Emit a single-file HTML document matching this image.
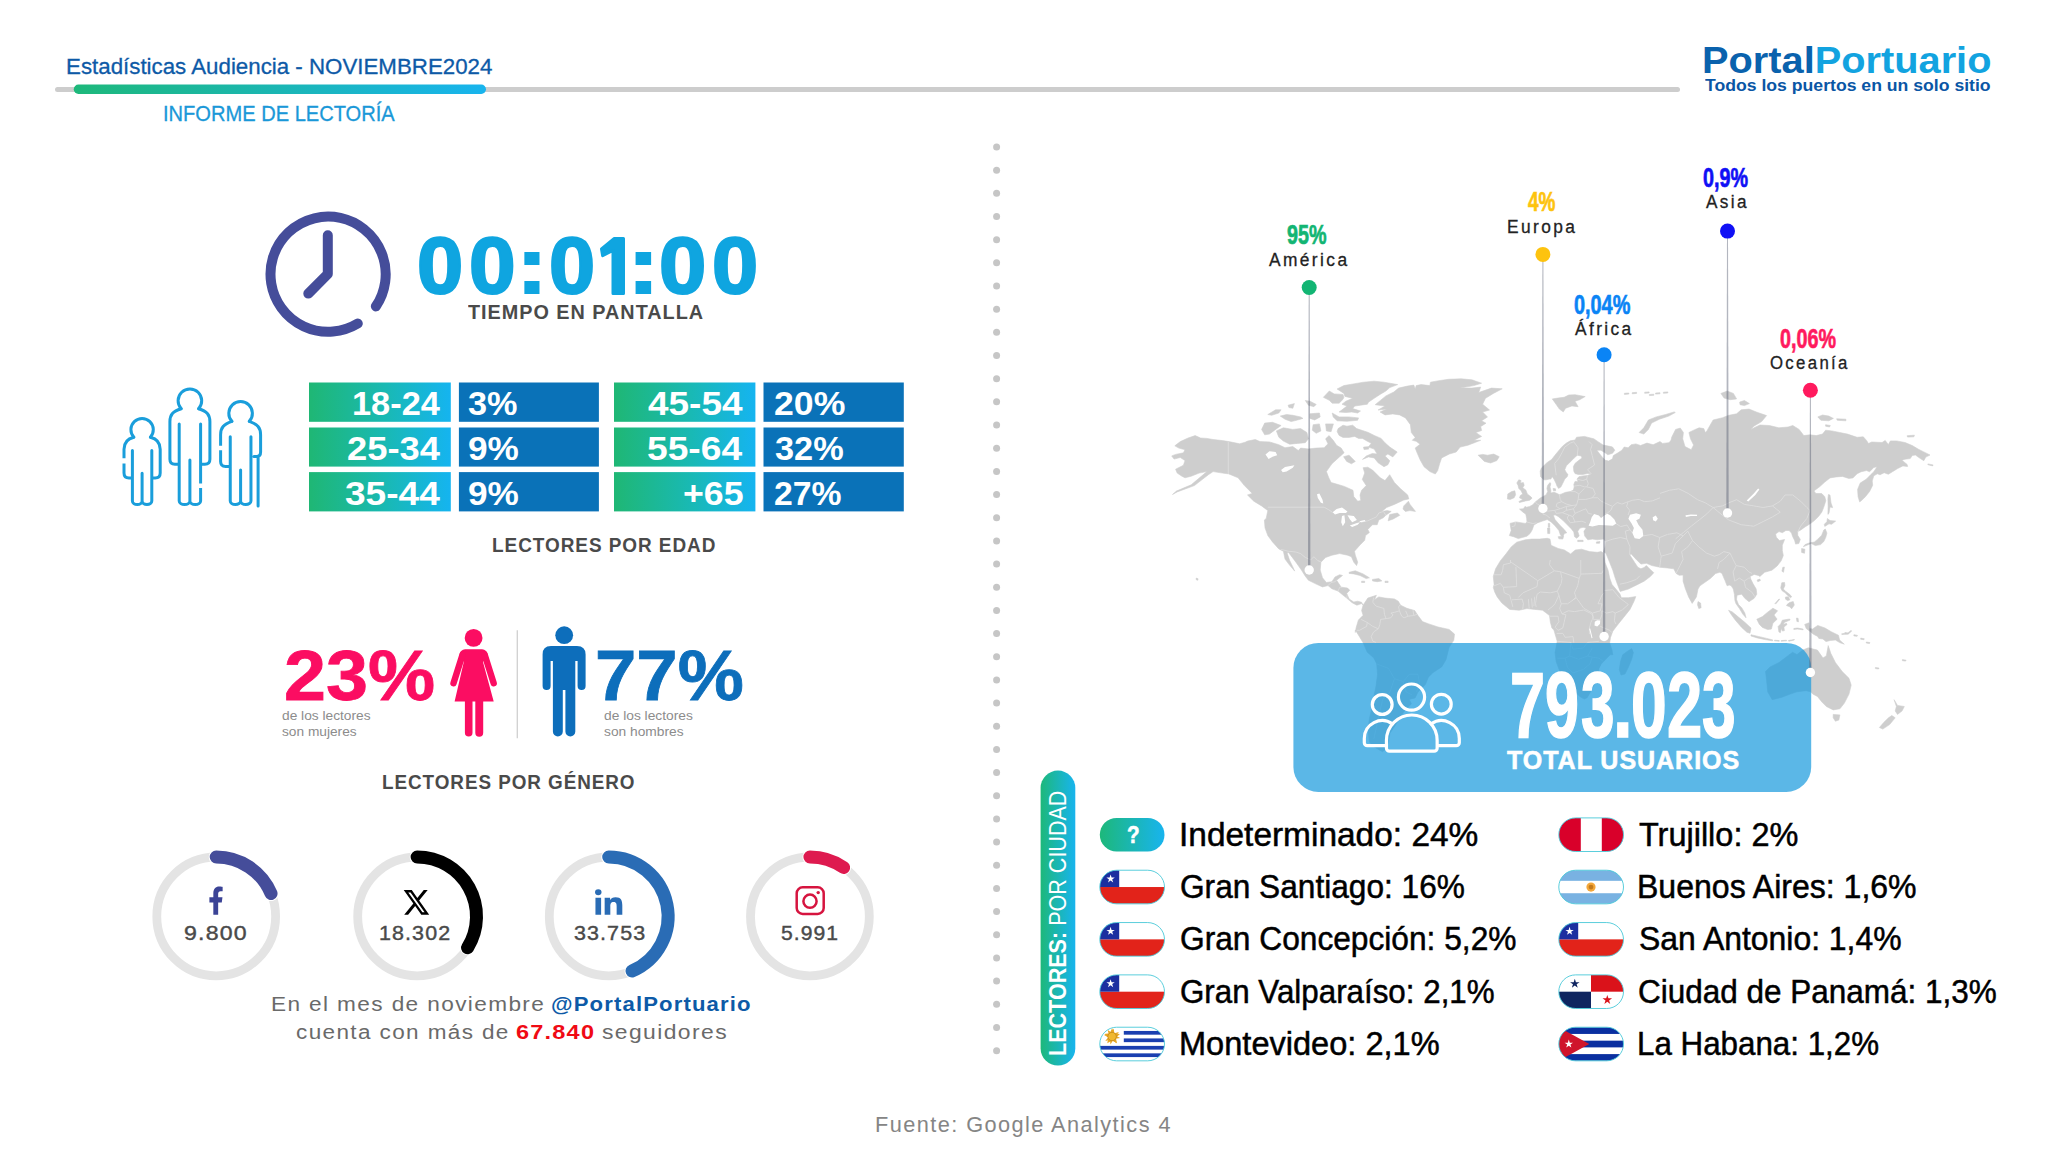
<!DOCTYPE html>
<html><head><meta charset="utf-8"><title>Informe de Lectoría</title>
<style>
html,body{margin:0;padding:0;background:#fff;}
body{width:2048px;height:1152px;position:relative;overflow:hidden;font-family:"Liberation Sans", sans-serif;}
.t{position:absolute;white-space:nowrap;line-height:1;transform-origin:0 0;font-family:"Liberation Sans", sans-serif;}
svg{position:absolute;left:0;top:0;}
.rot{position:absolute;white-space:nowrap;line-height:1;font-family:"Liberation Sans", sans-serif;color:#fff;transform-origin:0 0;}
</style></head><body>
<svg width="2048" height="1152" viewBox="0 0 2048 1152">
<clipPath id="land"><path d="M1174.8,445.8 L1180.3,441.6 L1188.1,438.0 L1195.2,435.6 L1200.6,438.0 L1206.9,438.4 L1213.1,439.5 L1222.5,440.6 L1228.8,441.6 L1239.7,443.8 L1245.2,442.2 L1247.5,441.1 L1255.3,439.5 L1260.0,441.6 L1269.4,441.9 L1278.8,444.7 L1285.0,447.7 L1292.8,446.6 L1298.3,450.5 L1300.6,448.1 L1308.4,448.9 L1316.2,448.1 L1324.1,447.7 L1328.0,443.8 L1325.6,438.8 L1329.1,435.6 L1333.4,440.6 L1336.6,445.3 L1341.2,448.1 L1344.1,452.8 L1339.7,456.7 L1331.9,463.8 L1326.4,471.6 L1328.8,477.8 L1331.1,482.5 L1336.6,484.1 L1344.4,486.4 L1353.0,490.3 L1353.8,496.6 L1357.7,501.2 L1360.8,500.5 L1360.0,495.0 L1361.6,490.3 L1366.2,485.6 L1362.3,479.4 L1364.7,473.1 L1363.1,467.7 L1367.8,467.2 L1372.5,470.0 L1380.3,477.8 L1385.0,480.6 L1389.7,474.7 L1394.4,482.5 L1400.6,488.8 L1407.7,495.0 L1408.8,498.9 L1403.8,500.0 L1394.4,504.4 L1386.6,507.5 L1381.9,511.4 L1387.3,510.6 L1391.2,511.4 L1385.8,515.3 L1383.4,517.7 L1378.8,520.0 L1377.2,524.7 L1372.5,524.7 L1367.8,529.4 L1369.4,532.5 L1365.5,535.6 L1364.7,540.3 L1360.0,545.0 L1354.5,551.2 L1355.3,555.2 L1357.7,562.2 L1356.6,565.6 L1353.8,562.2 L1351.4,556.7 L1347.5,555.2 L1339.7,553.6 L1331.9,555.2 L1325.6,557.5 L1320.9,562.2 L1320.2,570.0 L1322.5,577.8 L1326.4,582.5 L1331.9,581.7 L1335.0,577.0 L1339.7,574.7 L1342.5,575.5 L1336.6,580.2 L1338.1,582.5 L1341.2,587.2 L1347.5,588.0 L1349.8,590.3 L1346.7,593.4 L1349.1,598.9 L1353.8,602.0 L1357.7,601.2 L1361.6,602.3 L1363.1,605.2 L1361.6,603.6 L1356.9,605.2 L1352.2,602.8 L1346.7,598.1 L1342.8,595.0 L1338.1,591.1 L1331.9,588.8 L1328.0,585.6 L1322.5,586.9 L1316.2,584.1 L1308.4,580.2 L1305.3,576.2 L1301.4,570.0 L1295.9,562.2 L1291.2,555.9 L1288.1,552.0 L1287.3,553.6 L1289.7,560.6 L1292.8,566.9 L1294.7,571.1 L1289.7,565.3 L1285.0,559.1 L1283.4,551.2 L1278.8,548.9 L1272.5,541.9 L1267.8,535.6 L1265.0,527.8 L1264.4,520.0 L1266.2,518.4 L1267.8,510.6 L1261.6,505.9 L1253.8,501.2 L1247.5,495.0 L1252.2,493.4 L1244.4,485.6 L1238.1,477.8 L1228.8,473.9 L1222.5,473.1 L1213.1,471.6 L1208.4,474.7 L1194.4,485.6 L1177.2,491.9 L1172.5,494.5 L1176.4,491.1 L1191.2,484.8 L1206.9,471.6 L1199.1,473.1 L1191.2,476.2 L1185.0,477.8 L1181.9,476.2 L1177.2,473.1 L1175.6,469.2 L1183.4,465.3 L1185.0,460.6 L1180.3,457.5 L1174.1,459.1 L1171.7,455.9 L1175.6,454.4 L1183.4,452.8 L1185.0,449.7 L1178.8,448.1Z M1343.6,456.7 L1349.1,455.2 L1355.3,461.4 L1351.4,463.8 L1346.7,461.4Z M1338.1,428.6 L1343.0,425.2 L1346.9,426.2 L1352.7,425.2 L1356.6,428.6 L1362.5,430.5 L1368.4,432.5 L1374.2,435.4 L1381.1,438.4 L1385.0,442.8 L1389.8,447.1 L1397.2,452.0 L1392.8,456.9 L1387.9,454.0 L1385.0,455.9 L1389.8,460.8 L1387.9,464.7 L1384.0,466.7 L1378.1,462.8 L1374.2,457.9 L1368.4,456.9 L1362.5,459.4 L1366.4,455.9 L1372.3,453.5 L1377.1,454.0 L1374.2,449.1 L1368.4,447.1 L1371.3,443.2 L1367.4,441.3 L1362.5,438.4 L1358.6,438.4 L1354.7,436.4 L1348.8,437.4 L1343.0,437.4 L1339.1,435.4 L1337.1,431.5Z M1363.5,447.1 L1368.4,446.7 L1368.8,449.1 L1364.0,449.6Z M1276.4,430.9 L1283.4,427.8 L1292.8,429.4 L1300.6,428.6 L1306.9,432.5 L1308.4,438.8 L1305.3,442.7 L1297.5,443.4 L1289.7,444.2 L1283.4,441.1 L1278.8,437.2Z M1261.6,429.4 L1264.7,423.1 L1272.5,422.3 L1281.1,425.5 L1275.6,429.4 L1269.4,434.1 L1264.7,434.8Z M1267.8,414.5 L1275.6,409.8 L1281.1,409.8 L1278.8,413.0 L1271.7,415.3Z M1280.3,416.1 L1286.6,414.5 L1292.8,415.3 L1300.6,416.9 L1303.0,418.4 L1297.5,420.0 L1291.2,421.6 L1285.0,419.2Z M1288.1,405.2 L1294.4,403.6 L1292.8,408.3 L1288.9,407.5Z M1305.3,400.5 L1310.0,401.2 L1316.2,404.4 L1313.9,406.7 L1308.4,405.2Z M1310.0,413.8 L1319.4,413.0 L1320.2,416.9 L1314.7,420.0 L1310.0,418.4Z M1332.2,413.0 L1339.1,416.9 L1348.8,416.9 L1358.6,417.9 L1357.6,420.3 L1346.9,421.3 L1337.1,420.8 L1333.2,416.9Z M1337.1,389.0 L1343.9,385.6 L1354.7,383.7 L1363.5,382.2 L1374.2,381.2 L1384.0,382.2 L1397.7,384.6 L1389.8,387.6 L1385.9,391.0 L1380.1,394.4 L1374.2,398.3 L1368.4,402.2 L1367.4,404.2 L1360.5,405.2 L1354.7,406.1 L1352.7,408.6 L1360.5,411.0 L1357.6,413.0 L1351.8,412.0 L1345.9,412.5 L1339.1,412.0 L1343.0,409.1 L1346.9,406.1 L1342.0,404.2 L1345.9,401.2 L1352.7,398.3 L1344.9,396.4 L1343.9,393.4Z M1323.4,397.3 L1329.3,391.0 L1334.2,393.9 L1343.0,394.4 L1343.9,397.3 L1343.0,399.3 L1339.1,403.2 L1332.2,403.2 L1329.3,400.3Z M1313.1,424.7 L1319.4,423.9 L1320.9,430.9 L1316.2,433.3 L1312.3,430.2Z M1325.6,423.9 L1333.4,423.9 L1331.1,431.7 L1326.4,430.9Z M1389.7,514.5 L1397.5,513.0 L1399.8,515.3 L1392.8,519.2 L1388.1,520.8Z M1403.8,505.9 L1408.4,501.2 L1410.0,504.4 L1415.5,511.4 L1410.0,510.6 L1405.3,511.4 L1403.0,509.1Z M1349.1,572.3 L1355.3,570.8 L1363.1,573.9 L1369.4,577.8 L1366.2,578.6 L1360.0,575.5 L1353.8,573.9 L1349.1,573.4Z M1372.5,579.4 L1378.8,578.6 L1381.9,580.9 L1377.2,581.7 L1372.5,580.9Z M1385.0,581.2 L1388.1,581.2 L1388.1,582.5 L1385.0,582.5Z M1361.6,581.2 L1364.7,581.2 L1364.7,582.5 L1361.6,582.5Z M1363.1,605.2 L1367.8,598.1 L1376.4,595.3 L1374.4,599.7 L1378.8,596.9 L1385.0,598.1 L1394.4,598.9 L1398.3,601.2 L1400.6,605.2 L1406.9,608.3 L1414.7,610.6 L1417.8,615.3 L1422.5,621.6 L1428.8,623.9 L1438.1,627.0 L1449.1,629.4 L1454.5,634.1 L1453.8,640.3 L1450.6,645.0 L1449.0,647.7 L1446.1,659.5 L1441.7,666.9 L1432.8,672.8 L1428.4,677.2 L1425.4,684.6 L1418.0,692.0 L1415.1,697.9 L1409.2,699.4 L1411.4,703.8 L1403.3,712.6 L1395.9,724.4 L1390.0,733.3 L1388.5,742.1 L1385.6,749.5 L1382.6,751.7 L1379.7,750.3 L1373.8,746.6 L1369.4,742.1 L1367.9,730.3 L1369.4,718.5 L1372.3,706.7 L1373.8,696.4 L1376.0,686.1 L1377.5,674.3 L1376.7,663.9 L1373.8,658.0 L1367.1,652.1 L1363.4,643.3 L1359.0,635.9 L1355.3,630.0 L1355.3,632.5 L1356.1,627.8 L1358.4,620.0 L1363.1,615.3 L1361.6,610.6Z M1375.2,404.7 L1385.9,395.9 L1393.8,392.0 L1398.6,388.1 L1407.4,386.1 L1413.8,385.1 L1415.2,389.0 L1416.2,385.6 L1421.1,384.6 L1429.9,385.6 L1430.4,382.2 L1438.7,380.7 L1448.4,379.3 L1461.1,378.8 L1471.9,379.8 L1481.6,383.2 L1473.8,385.6 L1460.2,388.1 L1471.9,388.1 L1480.7,387.1 L1478.7,392.5 L1491.4,388.1 L1502.2,388.8 L1493.4,393.4 L1485.5,398.3 L1482.6,404.2 L1489.5,410.0 L1482.6,412.0 L1487.5,416.9 L1481.6,420.8 L1486.0,423.2 L1480.7,426.6 L1481.6,430.5 L1475.8,432.5 L1481.6,436.4 L1473.8,440.3 L1480.7,440.3 L1468.0,445.2 L1460.2,447.1 L1456.2,452.0 L1449.4,454.0 L1441.6,457.9 L1439.6,463.8 L1437.7,470.6 L1435.3,474.0 L1429.9,471.6 L1424.0,466.7 L1420.1,459.8 L1417.2,453.0 L1415.2,448.1 L1420.1,444.2 L1416.2,441.3 L1412.3,440.3 L1415.2,437.4 L1411.3,432.5 L1410.4,424.7 L1405.5,417.9 L1399.6,414.9 L1392.8,413.9 L1385.0,414.9 L1380.1,412.0 L1386.9,409.1 L1378.1,410.0 L1385.0,406.1Z M1478.1,455.2 L1482.8,454.4 L1487.5,455.2 L1493.8,454.1 L1499.2,456.7 L1496.9,460.6 L1490.6,463.0 L1484.4,461.4 L1481.2,458.3Z M1552.3,398.9 L1557.8,398.1 L1564.1,397.3 L1568.8,395.0 L1575.0,394.7 L1585.2,396.6 L1579.7,399.7 L1575.0,401.2 L1578.1,406.7 L1571.9,405.9 L1565.6,408.3 L1563.3,411.9 L1559.4,409.1 L1556.2,404.4Z M1674.2,411.9 L1665.6,414.5 L1656.2,416.9 L1648.4,420.0 L1643.8,427.8 L1639.1,432.5 L1643.8,434.1 L1648.4,429.4 L1651.6,423.1 L1659.4,419.2 L1668.8,416.1 L1675.3,412.5Z M1624.4,393.3 L1628.8,393.0 L1628.8,394.1 L1624.4,394.4Z M1632.2,392.7 L1636.6,392.3 L1636.6,393.4 L1632.2,393.8Z M1644.7,392.2 L1649.1,391.9 L1649.1,393.0 L1644.7,393.3Z M1649.4,394.5 L1653.8,394.2 L1653.8,395.3 L1649.4,395.6Z M1655.6,393.0 L1660.0,392.7 L1660.0,393.8 L1655.6,394.1Z M1663.4,392.2 L1667.8,391.9 L1667.8,393.0 L1663.4,393.3Z M1518.8,479.8 L1521.1,480.6 L1520.3,483.0 L1523.4,482.6 L1524.2,485.3 L1522.7,487.7 L1525.8,490.0 L1527.3,493.9 L1531.2,497.0 L1532.0,498.2 L1529.7,500.2 L1525.8,500.9 L1519.5,502.5 L1518.8,501.7 L1522.7,499.4 L1519.5,497.8 L1520.3,495.5 L1522.7,493.9 L1521.1,490.8 L1518.8,488.4 L1518.0,485.3 L1516.8,483.0Z M1507.8,493.9 L1511.7,491.6 L1514.8,490.8 L1515.6,494.7 L1514.1,497.8 L1510.2,499.4 L1507.4,499.0Z M1553.1,488.4 L1555.5,488.8 L1555.6,490.8 L1553.5,490.8Z M1509.4,535.6 L1511.2,530.5 L1510.0,523.4 L1515.9,521.9 L1525.3,523.4 L1527.0,522.0 L1526.6,518.1 L1525.8,514.2 L1522.7,511.9 L1519.5,509.1 L1523.4,508.8 L1525.0,506.4 L1526.6,507.2 L1529.7,506.4 L1532.8,504.8 L1535.2,502.1 L1537.5,500.2 L1540.6,497.8 L1543.8,496.2 L1546.1,494.7 L1547.7,491.6 L1546.9,488.4 L1547.7,485.3 L1550.0,482.6 L1550.8,483.8 L1550.0,486.9 L1550.8,490.0 L1550.8,493.1 L1553.9,492.3 L1556.2,493.1 L1559.4,494.7 L1561.7,493.9 L1565.6,492.3 L1570.3,491.6 L1573.4,490.0 L1574.2,486.9 L1573.8,484.5 L1575.0,481.4 L1578.1,481.4 L1577.0,479.1 L1578.9,476.7 L1582.8,475.9 L1587.5,475.5 L1591.4,474.0 L1587.5,473.6 L1582.8,474.4 L1578.1,474.4 L1575.0,473.6 L1573.8,471.2 L1573.4,466.6 L1575.0,463.4 L1578.9,460.3 L1582.0,458.0 L1581.2,456.0 L1577.3,455.2 L1574.2,458.0 L1570.3,461.9 L1566.4,465.8 L1564.8,469.7 L1566.4,472.8 L1568.0,474.4 L1567.2,476.7 L1564.8,479.1 L1562.5,483.8 L1560.9,486.9 L1558.6,488.4 L1557.0,486.1 L1555.9,483.0 L1553.9,479.1 L1552.3,476.7 L1550.8,479.1 L1549.2,479.1 L1546.1,479.8 L1543.8,479.8 L1540.6,476.7 L1540.2,471.2 L1541.4,468.1 L1546.9,462.7 L1551.6,459.5 L1554.7,455.6 L1557.8,451.7 L1562.5,446.2 L1566.4,443.1 L1570.3,440.8 L1575.0,440.0 L1576.6,437.2 L1584.4,436.4 L1593.8,438.8 L1598.4,441.9 L1603.1,445.0 L1610.9,446.6 L1612.5,447.0 L1614.8,450.2 L1612.5,453.3 L1607.8,454.8 L1604.7,452.5 L1600.8,450.2 L1596.9,450.2 L1599.2,453.3 L1602.3,457.2 L1605.5,460.3 L1608.6,461.1 L1612.5,458.8 L1613.3,455.6 L1617.2,453.3 L1621.9,450.2 L1624.2,447.0 L1628.1,447.8 L1631.2,444.7 L1635.9,443.9 L1640.6,445.5 L1646.9,443.1 L1653.1,444.7 L1660.0,441.6 L1662.5,443.4 L1668.8,442.7 L1672.7,438.8 L1669.4,448.1 L1671.7,437.2 L1675.6,429.4 L1680.3,428.1 L1683.4,432.5 L1682.7,438.8 L1685.0,446.6 L1691.2,449.7 L1693.6,445.0 L1690.5,438.8 L1688.9,432.5 L1693.6,430.2 L1699.1,427.8 L1703.8,428.6 L1705.3,432.5 L1706.9,430.9 L1713.1,420.0 L1722.5,417.7 L1728.8,415.3 L1736.6,413.8 L1741.2,409.8 L1749.1,409.1 L1756.9,412.2 L1766.6,415.6 L1761.6,421.6 L1753.8,426.2 L1750.6,429.4 L1760.0,425.0 L1769.4,425.5 L1778.8,427.8 L1788.1,427.0 L1792.8,425.5 L1799.1,429.4 L1803.8,435.6 L1810.0,434.8 L1816.2,435.6 L1822.5,434.1 L1825.6,430.2 L1831.9,430.9 L1839.7,432.5 L1847.5,434.1 L1857.1,437.3 L1863.3,436.8 L1866.5,440.4 L1868.5,443.5 L1871.7,442.0 L1882.1,442.5 L1885.2,440.4 L1888.3,444.6 L1890.4,440.9 L1896.7,440.9 L1905.0,442.5 L1912.3,445.6 L1918.5,449.3 L1923.8,451.9 L1930.0,455.0 L1925.8,457.1 L1923.8,460.7 L1919.6,458.1 L1915.4,455.0 L1912.3,455.5 L1910.2,458.6 L1905.0,459.2 L1901.9,460.2 L1907.1,464.4 L1907.6,466.5 L1902.9,465.9 L1897.7,468.5 L1892.5,471.7 L1888.3,474.3 L1884.2,472.7 L1880.0,474.8 L1877.4,473.8 L1873.8,475.8 L1872.2,481.0 L1872.7,485.2 L1869.6,491.5 L1865.4,496.7 L1862.3,499.8 L1859.7,501.9 L1858.1,496.7 L1857.6,489.4 L1860.2,483.1 L1866.5,479.0 L1870.6,474.8 L1873.8,471.7 L1877.1,466.7 L1873.8,467.5 L1869.6,471.7 L1866.5,470.6 L1861.2,471.7 L1857.1,473.8 L1852.9,477.9 L1848.8,478.4 L1842.5,476.4 L1836.2,476.9 L1830.0,477.9 L1824.8,482.1 L1819.6,486.8 L1813.9,490.9 L1815.9,493.5 L1821.7,493.5 L1824.8,496.7 L1825.8,500.8 L1823.8,507.1 L1821.7,512.3 L1818.5,516.5 L1814.4,520.6 L1810.2,523.8 L1805.0,526.9 L1800.8,530.0 L1797.7,531.6 L1797.7,535.2 L1800.3,539.4 L1798.8,543.5 L1795.6,544.1 L1794.6,540.4 L1792.5,536.2 L1791.5,533.1 L1789.1,530.5 L1785.8,530.5 L1782.4,532.7 L1779.0,531.6 L1775.6,533.9 L1776.3,537.2 L1779.4,540.6 L1784.6,539.5 L1782.3,545.2 L1782.3,550.4 L1783.3,555.6 L1781.2,560.8 L1777.1,566.0 L1771.9,570.2 L1764.6,572.3 L1759.9,576.5 L1758.3,575.4 L1754.2,574.4 L1750.0,576.5 L1751.0,579.6 L1753.1,583.8 L1756.2,589.0 L1756.8,594.2 L1754.2,598.3 L1749.0,601.7 L1744.8,598.3 L1741.7,594.2 L1737.0,595.2 L1736.5,599.4 L1738.5,604.6 L1741.7,607.7 L1744.8,612.9 L1746.0,617.8 L1742.7,614.0 L1739.6,608.8 L1735.9,603.5 L1734.9,600.4 L1734.4,594.2 L1733.3,589.0 L1731.2,585.8 L1729.2,585.0 L1727.1,585.8 L1725.0,580.6 L1721.9,573.3 L1719.8,572.3 L1715.6,573.5 L1710.4,578.5 L1700.0,585.8 L1698.0,589.1 L1696.4,596.9 L1692.2,603.4 L1688.6,596.9 L1685.5,589.1 L1683.1,581.2 L1683.1,575.0 L1679.2,575.3 L1676.1,573.4 L1673.8,568.8 L1667.5,568.0 L1659.7,567.2 L1651.9,565.6 L1646.4,563.3 L1640.9,564.1 L1636.2,559.4 L1631.2,553.9 L1629.7,554.7 L1631.6,557.8 L1634.7,562.5 L1637.8,567.2 L1640.9,568.8 L1644.1,567.5 L1646.4,565.6 L1649.5,568.8 L1653.8,572.7 L1650.3,576.6 L1644.1,581.2 L1636.2,585.2 L1628.4,589.1 L1620.2,591.4 L1617.5,584.4 L1615.2,578.1 L1612.8,570.3 L1609.7,562.5 L1605.8,553.1 L1603.4,552.3 L1605.0,546.9 L1605.8,541.4 L1603.4,539.1 L1597.2,539.8 L1592.5,539.1 L1587.8,539.8 L1584.7,535.9 L1583.9,531.2 L1586.2,528.1 L1583.1,527.3 L1580.0,528.1 L1577.7,531.2 L1579.2,535.9 L1576.9,538.3 L1574.5,536.7 L1573.8,532.0 L1571.4,528.9 L1567.5,525.0 L1562.8,520.3 L1558.1,516.4 L1555.0,514.8 L1553.4,515.6 L1555.0,519.5 L1559.7,525.0 L1564.4,529.7 L1566.7,532.8 L1564.4,533.6 L1562.8,536.7 L1560.5,535.2 L1558.9,530.5 L1555.0,525.8 L1551.1,521.9 L1547.2,519.5 L1542.5,521.1 L1537.8,522.7 L1533.9,525.0 L1532.3,529.7 L1530.0,533.6 L1526.9,536.2 L1522.2,537.5 L1518.3,538.6 L1513.6,536.7Z M1558.1,536.7 L1563.6,536.2 L1562.8,539.1 L1558.9,538.8Z M1547.5,528.1 L1549.8,528.1 L1549.8,533.6 L1547.7,533.6Z M1548.3,523.4 L1549.7,523.4 L1549.7,527.3 L1548.3,527.3Z M1577.7,540.3 L1583.1,540.3 L1583.1,541.6 L1577.7,541.6Z M1596.4,541.9 L1600.0,541.6 L1599.5,543.3 L1596.4,543.3Z M1698.0,601.6 L1700.6,603.1 L1701.1,607.8 L1698.8,608.6 L1697.5,604.7Z M1720.9,393.4 L1727.2,391.1 L1733.4,393.4 L1736.6,398.9 L1730.3,399.7 L1724.1,398.1Z M1739.7,402.0 L1744.4,400.5 L1749.4,403.6 L1744.4,405.6 L1740.0,404.7Z M1817.8,416.9 L1822.5,415.0 L1828.8,416.1 L1833.4,418.4 L1828.8,420.8 L1820.9,420.3Z M1836.6,418.8 L1845.9,419.2 L1845.9,420.8 L1837.3,420.3Z M1825.6,424.7 L1830.3,425.5 L1829.5,427.0 L1825.6,426.2Z M1907.1,435.7 L1914.4,435.2 L1913.9,436.8 L1907.6,437.1Z M1927.9,463.9 L1933.1,464.9 L1932.6,465.9 L1927.9,464.7Z M1828.4,494.6 L1830.0,495.1 L1831.0,502.9 L1832.6,507.6 L1830.0,507.1 L1829.0,513.3 L1827.9,514.4 L1828.1,506.0 L1827.9,498.8Z M1516.7,542.2 L1525.3,539.8 L1531.6,539.1 L1539.4,539.1 L1547.2,538.3 L1550.0,539.1 L1551.1,545.3 L1558.1,548.4 L1564.4,550.0 L1570.6,553.9 L1575.3,550.0 L1581.6,549.2 L1589.4,551.6 L1597.2,552.3 L1601.1,551.6 L1603.4,553.1 L1605.0,562.5 L1608.1,570.3 L1609.7,578.1 L1612.0,584.4 L1615.9,589.1 L1619.8,593.8 L1621.4,597.7 L1628.4,597.7 L1635.8,596.6 L1633.9,601.6 L1630.0,609.4 L1623.8,617.2 L1617.5,625.0 L1612.8,631.2 L1610.5,637.5 L1609.7,643.0 L1612.0,650.0 L1612.8,654.7 L1610.3,654.8 L1605.8,659.3 L1601.3,663.9 L1599.0,668.4 L1597.9,675.1 L1595.1,683.0 L1591.1,690.9 L1587.2,697.7 L1584.3,699.1 L1579.8,696.6 L1573.0,689.8 L1567.4,680.8 L1561.8,674.0 L1559.5,670.6 L1556.1,661.6 L1555.0,652.6 L1557.2,641.3 L1553.9,630.0 L1551.9,628.1 L1550.3,621.9 L1549.5,615.6 L1545.6,612.5 L1542.5,610.2 L1534.7,609.4 L1526.9,608.6 L1519.1,610.2 L1509.7,609.4 L1501.9,603.1 L1497.2,596.9 L1494.8,592.2 L1493.3,587.5 L1494.1,584.4 L1493.3,576.6 L1495.6,568.8 L1500.3,560.9 L1506.6,553.1 L1511.2,546.9Z M1631.7,648.6 L1633.4,652.6 L1631.7,659.3 L1628.4,667.2 L1625.0,674.0 L1621.0,675.1 L1619.3,669.5 L1620.5,661.6 L1622.7,654.8 L1627.2,651.4Z M1802.7,650.1 L1808.3,647.8 L1817.4,650.1 L1823.0,658.0 L1826.4,655.7 L1828.2,645.6 L1830.9,653.5 L1835.4,662.5 L1842.2,671.5 L1849.0,678.3 L1851.2,685.1 L1849.0,694.1 L1844.4,703.1 L1839.9,708.8 L1833.2,709.9 L1826.4,706.5 L1821.9,702.0 L1817.4,696.4 L1812.8,694.1 L1810.6,691.8 L1806.1,690.7 L1797.0,691.8 L1790.3,694.1 L1781.2,697.5 L1772.2,699.7 L1767.7,691.8 L1766.6,680.6 L1765.5,671.5 L1770.0,667.0 L1779.0,662.5 L1788.0,655.7 L1792.5,652.3 L1797.0,654.6Z M1833.2,714.4 L1839.9,714.9 L1838.8,720.1 L1835.4,721.2 L1833.2,717.8Z M1894.1,699.7 L1897.5,705.4 L1904.3,706.5 L1902.0,711.0 L1897.5,714.4 L1895.2,711.0 L1896.4,706.5Z M1891.8,715.5 L1895.2,717.8 L1889.6,724.6 L1882.8,729.1 L1879.4,727.5 L1883.9,722.3 L1888.5,717.8Z M1804.7,624.4 L1808.9,622.8 L1809.4,628.5 L1812.5,629.1 L1817.7,625.4 L1825.0,628.0 L1831.2,631.7 L1838.5,635.3 L1839.6,640.0 L1844.3,644.2 L1839.6,642.6 L1835.4,640.0 L1830.2,640.5 L1826.0,641.6 L1822.9,639.0 L1818.8,638.4 L1817.7,636.4 L1813.5,634.3 L1810.4,631.7 L1806.2,628.5Z M1756.8,619.2 L1762.5,616.6 L1766.7,612.9 L1772.9,608.2 L1777.6,610.8 L1774.0,615.0 L1777.1,619.2 L1772.9,623.3 L1771.4,629.1 L1767.7,629.6 L1762.5,627.5 L1759.4,624.4Z M1728.6,610.3 L1732.3,611.9 L1738.5,617.1 L1744.8,622.3 L1751.0,628.0 L1750.0,633.2 L1746.9,632.2 L1741.7,627.5 L1735.4,620.2 L1731.2,614.5Z M1751.0,634.8 L1758.3,636.4 L1766.7,638.4 L1772.9,640.0 L1772.4,640.8 L1764.6,639.5 L1757.3,637.9 L1751.0,636.0Z M1774.5,640.2 L1779.2,640.6 L1779.2,641.2 L1774.5,640.8Z M1781.2,640.6 L1786.5,640.2 L1786.5,640.8 L1781.2,641.2Z M1788.5,640.5 L1794.3,639.5 L1794.3,640.0 L1788.8,641.2Z M1778.1,626.5 L1780.7,623.9 L1782.3,620.2 L1789.6,619.0 L1790.1,620.0 L1784.6,622.3 L1783.3,624.6 L1786.5,623.3 L1787.0,624.6 L1783.9,627.0 L1784.4,630.6 L1782.5,631.1 L1781.2,628.5 L1780.4,632.7 L1778.9,631.9Z M1796.4,618.1 L1798.1,618.3 L1798.5,621.8 L1796.9,621.5Z M1793.8,628.5 L1797.4,628.0 L1803.1,629.1 L1803.1,629.8 L1797.4,629.1 L1793.8,629.4Z M1781.8,582.7 L1784.6,582.5 L1784.9,585.8 L1783.3,589.0 L1785.9,591.6 L1789.6,594.2 L1791.7,596.8 L1790.6,597.8 L1787.5,595.2 L1784.9,592.6 L1782.3,591.0 L1780.7,587.9Z M1785.4,597.1 L1788.5,596.8 L1789.8,599.9 L1787.5,600.6 L1785.6,599.2Z M1789.6,602.5 L1793.2,601.5 L1794.3,605.1 L1791.7,608.8 L1789.6,606.7 L1786.5,605.6 L1787.0,604.6Z M1775.0,603.5 L1779.0,598.9 L1779.6,599.4 L1775.6,604.1Z M1782.8,567.3 L1784.4,567.1 L1783.5,572.3 L1781.9,571.2Z M1757.1,580.1 L1759.9,579.1 L1760.4,580.6 L1757.8,581.7Z M1841.7,633.8 L1847.9,632.9 L1851.0,630.4 L1851.7,631.0 L1848.4,634.0 L1841.9,634.6Z M1827.4,518.5 L1830.0,520.6 L1835.7,521.1 L1831.6,524.3 L1829.0,523.8 L1824.8,526.4 L1824.3,524.3 L1826.9,521.7Z M1825.3,529.0 L1826.9,533.1 L1825.8,537.3 L1823.8,541.5 L1820.6,544.6 L1815.4,545.6 L1811.2,543.5 L1806.0,545.6 L1803.4,546.7 L1805.0,544.6 L1809.2,543.0 L1814.4,542.0 L1817.5,539.4 L1821.7,535.2 L1823.8,530.0Z M1801.6,548.5 L1804.9,549.2 L1804.5,553.3 L1801.6,552.4Z M1844.9,632.5 L1848.5,633.2 L1848.1,634.1 L1844.9,633.6Z M1853.9,634.7 L1857.5,635.4 L1857.1,636.3 L1853.9,635.9Z M1860.7,638.1 L1864.3,638.8 L1863.9,639.7 L1860.7,639.3Z M1866.3,642.0 L1869.9,642.6 L1869.5,643.5 L1866.3,643.1Z M1875.4,667.5 L1879.0,668.1 L1878.5,669.0 L1875.4,668.6Z M1902.4,659.6 L1906.1,660.2 L1905.6,661.1 L1902.4,660.7Z M1196.2,578.1 L1198.1,578.8 L1197.8,580.3 L1196.2,579.7Z"/></clipPath>
<path d="M1174.8,445.8 L1180.3,441.6 L1188.1,438.0 L1195.2,435.6 L1200.6,438.0 L1206.9,438.4 L1213.1,439.5 L1222.5,440.6 L1228.8,441.6 L1239.7,443.8 L1245.2,442.2 L1247.5,441.1 L1255.3,439.5 L1260.0,441.6 L1269.4,441.9 L1278.8,444.7 L1285.0,447.7 L1292.8,446.6 L1298.3,450.5 L1300.6,448.1 L1308.4,448.9 L1316.2,448.1 L1324.1,447.7 L1328.0,443.8 L1325.6,438.8 L1329.1,435.6 L1333.4,440.6 L1336.6,445.3 L1341.2,448.1 L1344.1,452.8 L1339.7,456.7 L1331.9,463.8 L1326.4,471.6 L1328.8,477.8 L1331.1,482.5 L1336.6,484.1 L1344.4,486.4 L1353.0,490.3 L1353.8,496.6 L1357.7,501.2 L1360.8,500.5 L1360.0,495.0 L1361.6,490.3 L1366.2,485.6 L1362.3,479.4 L1364.7,473.1 L1363.1,467.7 L1367.8,467.2 L1372.5,470.0 L1380.3,477.8 L1385.0,480.6 L1389.7,474.7 L1394.4,482.5 L1400.6,488.8 L1407.7,495.0 L1408.8,498.9 L1403.8,500.0 L1394.4,504.4 L1386.6,507.5 L1381.9,511.4 L1387.3,510.6 L1391.2,511.4 L1385.8,515.3 L1383.4,517.7 L1378.8,520.0 L1377.2,524.7 L1372.5,524.7 L1367.8,529.4 L1369.4,532.5 L1365.5,535.6 L1364.7,540.3 L1360.0,545.0 L1354.5,551.2 L1355.3,555.2 L1357.7,562.2 L1356.6,565.6 L1353.8,562.2 L1351.4,556.7 L1347.5,555.2 L1339.7,553.6 L1331.9,555.2 L1325.6,557.5 L1320.9,562.2 L1320.2,570.0 L1322.5,577.8 L1326.4,582.5 L1331.9,581.7 L1335.0,577.0 L1339.7,574.7 L1342.5,575.5 L1336.6,580.2 L1338.1,582.5 L1341.2,587.2 L1347.5,588.0 L1349.8,590.3 L1346.7,593.4 L1349.1,598.9 L1353.8,602.0 L1357.7,601.2 L1361.6,602.3 L1363.1,605.2 L1361.6,603.6 L1356.9,605.2 L1352.2,602.8 L1346.7,598.1 L1342.8,595.0 L1338.1,591.1 L1331.9,588.8 L1328.0,585.6 L1322.5,586.9 L1316.2,584.1 L1308.4,580.2 L1305.3,576.2 L1301.4,570.0 L1295.9,562.2 L1291.2,555.9 L1288.1,552.0 L1287.3,553.6 L1289.7,560.6 L1292.8,566.9 L1294.7,571.1 L1289.7,565.3 L1285.0,559.1 L1283.4,551.2 L1278.8,548.9 L1272.5,541.9 L1267.8,535.6 L1265.0,527.8 L1264.4,520.0 L1266.2,518.4 L1267.8,510.6 L1261.6,505.9 L1253.8,501.2 L1247.5,495.0 L1252.2,493.4 L1244.4,485.6 L1238.1,477.8 L1228.8,473.9 L1222.5,473.1 L1213.1,471.6 L1208.4,474.7 L1194.4,485.6 L1177.2,491.9 L1172.5,494.5 L1176.4,491.1 L1191.2,484.8 L1206.9,471.6 L1199.1,473.1 L1191.2,476.2 L1185.0,477.8 L1181.9,476.2 L1177.2,473.1 L1175.6,469.2 L1183.4,465.3 L1185.0,460.6 L1180.3,457.5 L1174.1,459.1 L1171.7,455.9 L1175.6,454.4 L1183.4,452.8 L1185.0,449.7 L1178.8,448.1Z M1343.6,456.7 L1349.1,455.2 L1355.3,461.4 L1351.4,463.8 L1346.7,461.4Z M1338.1,428.6 L1343.0,425.2 L1346.9,426.2 L1352.7,425.2 L1356.6,428.6 L1362.5,430.5 L1368.4,432.5 L1374.2,435.4 L1381.1,438.4 L1385.0,442.8 L1389.8,447.1 L1397.2,452.0 L1392.8,456.9 L1387.9,454.0 L1385.0,455.9 L1389.8,460.8 L1387.9,464.7 L1384.0,466.7 L1378.1,462.8 L1374.2,457.9 L1368.4,456.9 L1362.5,459.4 L1366.4,455.9 L1372.3,453.5 L1377.1,454.0 L1374.2,449.1 L1368.4,447.1 L1371.3,443.2 L1367.4,441.3 L1362.5,438.4 L1358.6,438.4 L1354.7,436.4 L1348.8,437.4 L1343.0,437.4 L1339.1,435.4 L1337.1,431.5Z M1363.5,447.1 L1368.4,446.7 L1368.8,449.1 L1364.0,449.6Z M1276.4,430.9 L1283.4,427.8 L1292.8,429.4 L1300.6,428.6 L1306.9,432.5 L1308.4,438.8 L1305.3,442.7 L1297.5,443.4 L1289.7,444.2 L1283.4,441.1 L1278.8,437.2Z M1261.6,429.4 L1264.7,423.1 L1272.5,422.3 L1281.1,425.5 L1275.6,429.4 L1269.4,434.1 L1264.7,434.8Z M1267.8,414.5 L1275.6,409.8 L1281.1,409.8 L1278.8,413.0 L1271.7,415.3Z M1280.3,416.1 L1286.6,414.5 L1292.8,415.3 L1300.6,416.9 L1303.0,418.4 L1297.5,420.0 L1291.2,421.6 L1285.0,419.2Z M1288.1,405.2 L1294.4,403.6 L1292.8,408.3 L1288.9,407.5Z M1305.3,400.5 L1310.0,401.2 L1316.2,404.4 L1313.9,406.7 L1308.4,405.2Z M1310.0,413.8 L1319.4,413.0 L1320.2,416.9 L1314.7,420.0 L1310.0,418.4Z M1332.2,413.0 L1339.1,416.9 L1348.8,416.9 L1358.6,417.9 L1357.6,420.3 L1346.9,421.3 L1337.1,420.8 L1333.2,416.9Z M1337.1,389.0 L1343.9,385.6 L1354.7,383.7 L1363.5,382.2 L1374.2,381.2 L1384.0,382.2 L1397.7,384.6 L1389.8,387.6 L1385.9,391.0 L1380.1,394.4 L1374.2,398.3 L1368.4,402.2 L1367.4,404.2 L1360.5,405.2 L1354.7,406.1 L1352.7,408.6 L1360.5,411.0 L1357.6,413.0 L1351.8,412.0 L1345.9,412.5 L1339.1,412.0 L1343.0,409.1 L1346.9,406.1 L1342.0,404.2 L1345.9,401.2 L1352.7,398.3 L1344.9,396.4 L1343.9,393.4Z M1323.4,397.3 L1329.3,391.0 L1334.2,393.9 L1343.0,394.4 L1343.9,397.3 L1343.0,399.3 L1339.1,403.2 L1332.2,403.2 L1329.3,400.3Z M1313.1,424.7 L1319.4,423.9 L1320.9,430.9 L1316.2,433.3 L1312.3,430.2Z M1325.6,423.9 L1333.4,423.9 L1331.1,431.7 L1326.4,430.9Z M1389.7,514.5 L1397.5,513.0 L1399.8,515.3 L1392.8,519.2 L1388.1,520.8Z M1403.8,505.9 L1408.4,501.2 L1410.0,504.4 L1415.5,511.4 L1410.0,510.6 L1405.3,511.4 L1403.0,509.1Z M1349.1,572.3 L1355.3,570.8 L1363.1,573.9 L1369.4,577.8 L1366.2,578.6 L1360.0,575.5 L1353.8,573.9 L1349.1,573.4Z M1372.5,579.4 L1378.8,578.6 L1381.9,580.9 L1377.2,581.7 L1372.5,580.9Z M1385.0,581.2 L1388.1,581.2 L1388.1,582.5 L1385.0,582.5Z M1361.6,581.2 L1364.7,581.2 L1364.7,582.5 L1361.6,582.5Z M1363.1,605.2 L1367.8,598.1 L1376.4,595.3 L1374.4,599.7 L1378.8,596.9 L1385.0,598.1 L1394.4,598.9 L1398.3,601.2 L1400.6,605.2 L1406.9,608.3 L1414.7,610.6 L1417.8,615.3 L1422.5,621.6 L1428.8,623.9 L1438.1,627.0 L1449.1,629.4 L1454.5,634.1 L1453.8,640.3 L1450.6,645.0 L1449.0,647.7 L1446.1,659.5 L1441.7,666.9 L1432.8,672.8 L1428.4,677.2 L1425.4,684.6 L1418.0,692.0 L1415.1,697.9 L1409.2,699.4 L1411.4,703.8 L1403.3,712.6 L1395.9,724.4 L1390.0,733.3 L1388.5,742.1 L1385.6,749.5 L1382.6,751.7 L1379.7,750.3 L1373.8,746.6 L1369.4,742.1 L1367.9,730.3 L1369.4,718.5 L1372.3,706.7 L1373.8,696.4 L1376.0,686.1 L1377.5,674.3 L1376.7,663.9 L1373.8,658.0 L1367.1,652.1 L1363.4,643.3 L1359.0,635.9 L1355.3,630.0 L1355.3,632.5 L1356.1,627.8 L1358.4,620.0 L1363.1,615.3 L1361.6,610.6Z M1375.2,404.7 L1385.9,395.9 L1393.8,392.0 L1398.6,388.1 L1407.4,386.1 L1413.8,385.1 L1415.2,389.0 L1416.2,385.6 L1421.1,384.6 L1429.9,385.6 L1430.4,382.2 L1438.7,380.7 L1448.4,379.3 L1461.1,378.8 L1471.9,379.8 L1481.6,383.2 L1473.8,385.6 L1460.2,388.1 L1471.9,388.1 L1480.7,387.1 L1478.7,392.5 L1491.4,388.1 L1502.2,388.8 L1493.4,393.4 L1485.5,398.3 L1482.6,404.2 L1489.5,410.0 L1482.6,412.0 L1487.5,416.9 L1481.6,420.8 L1486.0,423.2 L1480.7,426.6 L1481.6,430.5 L1475.8,432.5 L1481.6,436.4 L1473.8,440.3 L1480.7,440.3 L1468.0,445.2 L1460.2,447.1 L1456.2,452.0 L1449.4,454.0 L1441.6,457.9 L1439.6,463.8 L1437.7,470.6 L1435.3,474.0 L1429.9,471.6 L1424.0,466.7 L1420.1,459.8 L1417.2,453.0 L1415.2,448.1 L1420.1,444.2 L1416.2,441.3 L1412.3,440.3 L1415.2,437.4 L1411.3,432.5 L1410.4,424.7 L1405.5,417.9 L1399.6,414.9 L1392.8,413.9 L1385.0,414.9 L1380.1,412.0 L1386.9,409.1 L1378.1,410.0 L1385.0,406.1Z M1478.1,455.2 L1482.8,454.4 L1487.5,455.2 L1493.8,454.1 L1499.2,456.7 L1496.9,460.6 L1490.6,463.0 L1484.4,461.4 L1481.2,458.3Z M1552.3,398.9 L1557.8,398.1 L1564.1,397.3 L1568.8,395.0 L1575.0,394.7 L1585.2,396.6 L1579.7,399.7 L1575.0,401.2 L1578.1,406.7 L1571.9,405.9 L1565.6,408.3 L1563.3,411.9 L1559.4,409.1 L1556.2,404.4Z M1674.2,411.9 L1665.6,414.5 L1656.2,416.9 L1648.4,420.0 L1643.8,427.8 L1639.1,432.5 L1643.8,434.1 L1648.4,429.4 L1651.6,423.1 L1659.4,419.2 L1668.8,416.1 L1675.3,412.5Z M1624.4,393.3 L1628.8,393.0 L1628.8,394.1 L1624.4,394.4Z M1632.2,392.7 L1636.6,392.3 L1636.6,393.4 L1632.2,393.8Z M1644.7,392.2 L1649.1,391.9 L1649.1,393.0 L1644.7,393.3Z M1649.4,394.5 L1653.8,394.2 L1653.8,395.3 L1649.4,395.6Z M1655.6,393.0 L1660.0,392.7 L1660.0,393.8 L1655.6,394.1Z M1663.4,392.2 L1667.8,391.9 L1667.8,393.0 L1663.4,393.3Z M1518.8,479.8 L1521.1,480.6 L1520.3,483.0 L1523.4,482.6 L1524.2,485.3 L1522.7,487.7 L1525.8,490.0 L1527.3,493.9 L1531.2,497.0 L1532.0,498.2 L1529.7,500.2 L1525.8,500.9 L1519.5,502.5 L1518.8,501.7 L1522.7,499.4 L1519.5,497.8 L1520.3,495.5 L1522.7,493.9 L1521.1,490.8 L1518.8,488.4 L1518.0,485.3 L1516.8,483.0Z M1507.8,493.9 L1511.7,491.6 L1514.8,490.8 L1515.6,494.7 L1514.1,497.8 L1510.2,499.4 L1507.4,499.0Z M1553.1,488.4 L1555.5,488.8 L1555.6,490.8 L1553.5,490.8Z M1509.4,535.6 L1511.2,530.5 L1510.0,523.4 L1515.9,521.9 L1525.3,523.4 L1527.0,522.0 L1526.6,518.1 L1525.8,514.2 L1522.7,511.9 L1519.5,509.1 L1523.4,508.8 L1525.0,506.4 L1526.6,507.2 L1529.7,506.4 L1532.8,504.8 L1535.2,502.1 L1537.5,500.2 L1540.6,497.8 L1543.8,496.2 L1546.1,494.7 L1547.7,491.6 L1546.9,488.4 L1547.7,485.3 L1550.0,482.6 L1550.8,483.8 L1550.0,486.9 L1550.8,490.0 L1550.8,493.1 L1553.9,492.3 L1556.2,493.1 L1559.4,494.7 L1561.7,493.9 L1565.6,492.3 L1570.3,491.6 L1573.4,490.0 L1574.2,486.9 L1573.8,484.5 L1575.0,481.4 L1578.1,481.4 L1577.0,479.1 L1578.9,476.7 L1582.8,475.9 L1587.5,475.5 L1591.4,474.0 L1587.5,473.6 L1582.8,474.4 L1578.1,474.4 L1575.0,473.6 L1573.8,471.2 L1573.4,466.6 L1575.0,463.4 L1578.9,460.3 L1582.0,458.0 L1581.2,456.0 L1577.3,455.2 L1574.2,458.0 L1570.3,461.9 L1566.4,465.8 L1564.8,469.7 L1566.4,472.8 L1568.0,474.4 L1567.2,476.7 L1564.8,479.1 L1562.5,483.8 L1560.9,486.9 L1558.6,488.4 L1557.0,486.1 L1555.9,483.0 L1553.9,479.1 L1552.3,476.7 L1550.8,479.1 L1549.2,479.1 L1546.1,479.8 L1543.8,479.8 L1540.6,476.7 L1540.2,471.2 L1541.4,468.1 L1546.9,462.7 L1551.6,459.5 L1554.7,455.6 L1557.8,451.7 L1562.5,446.2 L1566.4,443.1 L1570.3,440.8 L1575.0,440.0 L1576.6,437.2 L1584.4,436.4 L1593.8,438.8 L1598.4,441.9 L1603.1,445.0 L1610.9,446.6 L1612.5,447.0 L1614.8,450.2 L1612.5,453.3 L1607.8,454.8 L1604.7,452.5 L1600.8,450.2 L1596.9,450.2 L1599.2,453.3 L1602.3,457.2 L1605.5,460.3 L1608.6,461.1 L1612.5,458.8 L1613.3,455.6 L1617.2,453.3 L1621.9,450.2 L1624.2,447.0 L1628.1,447.8 L1631.2,444.7 L1635.9,443.9 L1640.6,445.5 L1646.9,443.1 L1653.1,444.7 L1660.0,441.6 L1662.5,443.4 L1668.8,442.7 L1672.7,438.8 L1669.4,448.1 L1671.7,437.2 L1675.6,429.4 L1680.3,428.1 L1683.4,432.5 L1682.7,438.8 L1685.0,446.6 L1691.2,449.7 L1693.6,445.0 L1690.5,438.8 L1688.9,432.5 L1693.6,430.2 L1699.1,427.8 L1703.8,428.6 L1705.3,432.5 L1706.9,430.9 L1713.1,420.0 L1722.5,417.7 L1728.8,415.3 L1736.6,413.8 L1741.2,409.8 L1749.1,409.1 L1756.9,412.2 L1766.6,415.6 L1761.6,421.6 L1753.8,426.2 L1750.6,429.4 L1760.0,425.0 L1769.4,425.5 L1778.8,427.8 L1788.1,427.0 L1792.8,425.5 L1799.1,429.4 L1803.8,435.6 L1810.0,434.8 L1816.2,435.6 L1822.5,434.1 L1825.6,430.2 L1831.9,430.9 L1839.7,432.5 L1847.5,434.1 L1857.1,437.3 L1863.3,436.8 L1866.5,440.4 L1868.5,443.5 L1871.7,442.0 L1882.1,442.5 L1885.2,440.4 L1888.3,444.6 L1890.4,440.9 L1896.7,440.9 L1905.0,442.5 L1912.3,445.6 L1918.5,449.3 L1923.8,451.9 L1930.0,455.0 L1925.8,457.1 L1923.8,460.7 L1919.6,458.1 L1915.4,455.0 L1912.3,455.5 L1910.2,458.6 L1905.0,459.2 L1901.9,460.2 L1907.1,464.4 L1907.6,466.5 L1902.9,465.9 L1897.7,468.5 L1892.5,471.7 L1888.3,474.3 L1884.2,472.7 L1880.0,474.8 L1877.4,473.8 L1873.8,475.8 L1872.2,481.0 L1872.7,485.2 L1869.6,491.5 L1865.4,496.7 L1862.3,499.8 L1859.7,501.9 L1858.1,496.7 L1857.6,489.4 L1860.2,483.1 L1866.5,479.0 L1870.6,474.8 L1873.8,471.7 L1877.1,466.7 L1873.8,467.5 L1869.6,471.7 L1866.5,470.6 L1861.2,471.7 L1857.1,473.8 L1852.9,477.9 L1848.8,478.4 L1842.5,476.4 L1836.2,476.9 L1830.0,477.9 L1824.8,482.1 L1819.6,486.8 L1813.9,490.9 L1815.9,493.5 L1821.7,493.5 L1824.8,496.7 L1825.8,500.8 L1823.8,507.1 L1821.7,512.3 L1818.5,516.5 L1814.4,520.6 L1810.2,523.8 L1805.0,526.9 L1800.8,530.0 L1797.7,531.6 L1797.7,535.2 L1800.3,539.4 L1798.8,543.5 L1795.6,544.1 L1794.6,540.4 L1792.5,536.2 L1791.5,533.1 L1789.1,530.5 L1785.8,530.5 L1782.4,532.7 L1779.0,531.6 L1775.6,533.9 L1776.3,537.2 L1779.4,540.6 L1784.6,539.5 L1782.3,545.2 L1782.3,550.4 L1783.3,555.6 L1781.2,560.8 L1777.1,566.0 L1771.9,570.2 L1764.6,572.3 L1759.9,576.5 L1758.3,575.4 L1754.2,574.4 L1750.0,576.5 L1751.0,579.6 L1753.1,583.8 L1756.2,589.0 L1756.8,594.2 L1754.2,598.3 L1749.0,601.7 L1744.8,598.3 L1741.7,594.2 L1737.0,595.2 L1736.5,599.4 L1738.5,604.6 L1741.7,607.7 L1744.8,612.9 L1746.0,617.8 L1742.7,614.0 L1739.6,608.8 L1735.9,603.5 L1734.9,600.4 L1734.4,594.2 L1733.3,589.0 L1731.2,585.8 L1729.2,585.0 L1727.1,585.8 L1725.0,580.6 L1721.9,573.3 L1719.8,572.3 L1715.6,573.5 L1710.4,578.5 L1700.0,585.8 L1698.0,589.1 L1696.4,596.9 L1692.2,603.4 L1688.6,596.9 L1685.5,589.1 L1683.1,581.2 L1683.1,575.0 L1679.2,575.3 L1676.1,573.4 L1673.8,568.8 L1667.5,568.0 L1659.7,567.2 L1651.9,565.6 L1646.4,563.3 L1640.9,564.1 L1636.2,559.4 L1631.2,553.9 L1629.7,554.7 L1631.6,557.8 L1634.7,562.5 L1637.8,567.2 L1640.9,568.8 L1644.1,567.5 L1646.4,565.6 L1649.5,568.8 L1653.8,572.7 L1650.3,576.6 L1644.1,581.2 L1636.2,585.2 L1628.4,589.1 L1620.2,591.4 L1617.5,584.4 L1615.2,578.1 L1612.8,570.3 L1609.7,562.5 L1605.8,553.1 L1603.4,552.3 L1605.0,546.9 L1605.8,541.4 L1603.4,539.1 L1597.2,539.8 L1592.5,539.1 L1587.8,539.8 L1584.7,535.9 L1583.9,531.2 L1586.2,528.1 L1583.1,527.3 L1580.0,528.1 L1577.7,531.2 L1579.2,535.9 L1576.9,538.3 L1574.5,536.7 L1573.8,532.0 L1571.4,528.9 L1567.5,525.0 L1562.8,520.3 L1558.1,516.4 L1555.0,514.8 L1553.4,515.6 L1555.0,519.5 L1559.7,525.0 L1564.4,529.7 L1566.7,532.8 L1564.4,533.6 L1562.8,536.7 L1560.5,535.2 L1558.9,530.5 L1555.0,525.8 L1551.1,521.9 L1547.2,519.5 L1542.5,521.1 L1537.8,522.7 L1533.9,525.0 L1532.3,529.7 L1530.0,533.6 L1526.9,536.2 L1522.2,537.5 L1518.3,538.6 L1513.6,536.7Z M1558.1,536.7 L1563.6,536.2 L1562.8,539.1 L1558.9,538.8Z M1547.5,528.1 L1549.8,528.1 L1549.8,533.6 L1547.7,533.6Z M1548.3,523.4 L1549.7,523.4 L1549.7,527.3 L1548.3,527.3Z M1577.7,540.3 L1583.1,540.3 L1583.1,541.6 L1577.7,541.6Z M1596.4,541.9 L1600.0,541.6 L1599.5,543.3 L1596.4,543.3Z M1698.0,601.6 L1700.6,603.1 L1701.1,607.8 L1698.8,608.6 L1697.5,604.7Z M1720.9,393.4 L1727.2,391.1 L1733.4,393.4 L1736.6,398.9 L1730.3,399.7 L1724.1,398.1Z M1739.7,402.0 L1744.4,400.5 L1749.4,403.6 L1744.4,405.6 L1740.0,404.7Z M1817.8,416.9 L1822.5,415.0 L1828.8,416.1 L1833.4,418.4 L1828.8,420.8 L1820.9,420.3Z M1836.6,418.8 L1845.9,419.2 L1845.9,420.8 L1837.3,420.3Z M1825.6,424.7 L1830.3,425.5 L1829.5,427.0 L1825.6,426.2Z M1907.1,435.7 L1914.4,435.2 L1913.9,436.8 L1907.6,437.1Z M1927.9,463.9 L1933.1,464.9 L1932.6,465.9 L1927.9,464.7Z M1828.4,494.6 L1830.0,495.1 L1831.0,502.9 L1832.6,507.6 L1830.0,507.1 L1829.0,513.3 L1827.9,514.4 L1828.1,506.0 L1827.9,498.8Z M1516.7,542.2 L1525.3,539.8 L1531.6,539.1 L1539.4,539.1 L1547.2,538.3 L1550.0,539.1 L1551.1,545.3 L1558.1,548.4 L1564.4,550.0 L1570.6,553.9 L1575.3,550.0 L1581.6,549.2 L1589.4,551.6 L1597.2,552.3 L1601.1,551.6 L1603.4,553.1 L1605.0,562.5 L1608.1,570.3 L1609.7,578.1 L1612.0,584.4 L1615.9,589.1 L1619.8,593.8 L1621.4,597.7 L1628.4,597.7 L1635.8,596.6 L1633.9,601.6 L1630.0,609.4 L1623.8,617.2 L1617.5,625.0 L1612.8,631.2 L1610.5,637.5 L1609.7,643.0 L1612.0,650.0 L1612.8,654.7 L1610.3,654.8 L1605.8,659.3 L1601.3,663.9 L1599.0,668.4 L1597.9,675.1 L1595.1,683.0 L1591.1,690.9 L1587.2,697.7 L1584.3,699.1 L1579.8,696.6 L1573.0,689.8 L1567.4,680.8 L1561.8,674.0 L1559.5,670.6 L1556.1,661.6 L1555.0,652.6 L1557.2,641.3 L1553.9,630.0 L1551.9,628.1 L1550.3,621.9 L1549.5,615.6 L1545.6,612.5 L1542.5,610.2 L1534.7,609.4 L1526.9,608.6 L1519.1,610.2 L1509.7,609.4 L1501.9,603.1 L1497.2,596.9 L1494.8,592.2 L1493.3,587.5 L1494.1,584.4 L1493.3,576.6 L1495.6,568.8 L1500.3,560.9 L1506.6,553.1 L1511.2,546.9Z M1631.7,648.6 L1633.4,652.6 L1631.7,659.3 L1628.4,667.2 L1625.0,674.0 L1621.0,675.1 L1619.3,669.5 L1620.5,661.6 L1622.7,654.8 L1627.2,651.4Z M1802.7,650.1 L1808.3,647.8 L1817.4,650.1 L1823.0,658.0 L1826.4,655.7 L1828.2,645.6 L1830.9,653.5 L1835.4,662.5 L1842.2,671.5 L1849.0,678.3 L1851.2,685.1 L1849.0,694.1 L1844.4,703.1 L1839.9,708.8 L1833.2,709.9 L1826.4,706.5 L1821.9,702.0 L1817.4,696.4 L1812.8,694.1 L1810.6,691.8 L1806.1,690.7 L1797.0,691.8 L1790.3,694.1 L1781.2,697.5 L1772.2,699.7 L1767.7,691.8 L1766.6,680.6 L1765.5,671.5 L1770.0,667.0 L1779.0,662.5 L1788.0,655.7 L1792.5,652.3 L1797.0,654.6Z M1833.2,714.4 L1839.9,714.9 L1838.8,720.1 L1835.4,721.2 L1833.2,717.8Z M1894.1,699.7 L1897.5,705.4 L1904.3,706.5 L1902.0,711.0 L1897.5,714.4 L1895.2,711.0 L1896.4,706.5Z M1891.8,715.5 L1895.2,717.8 L1889.6,724.6 L1882.8,729.1 L1879.4,727.5 L1883.9,722.3 L1888.5,717.8Z M1804.7,624.4 L1808.9,622.8 L1809.4,628.5 L1812.5,629.1 L1817.7,625.4 L1825.0,628.0 L1831.2,631.7 L1838.5,635.3 L1839.6,640.0 L1844.3,644.2 L1839.6,642.6 L1835.4,640.0 L1830.2,640.5 L1826.0,641.6 L1822.9,639.0 L1818.8,638.4 L1817.7,636.4 L1813.5,634.3 L1810.4,631.7 L1806.2,628.5Z M1756.8,619.2 L1762.5,616.6 L1766.7,612.9 L1772.9,608.2 L1777.6,610.8 L1774.0,615.0 L1777.1,619.2 L1772.9,623.3 L1771.4,629.1 L1767.7,629.6 L1762.5,627.5 L1759.4,624.4Z M1728.6,610.3 L1732.3,611.9 L1738.5,617.1 L1744.8,622.3 L1751.0,628.0 L1750.0,633.2 L1746.9,632.2 L1741.7,627.5 L1735.4,620.2 L1731.2,614.5Z M1751.0,634.8 L1758.3,636.4 L1766.7,638.4 L1772.9,640.0 L1772.4,640.8 L1764.6,639.5 L1757.3,637.9 L1751.0,636.0Z M1774.5,640.2 L1779.2,640.6 L1779.2,641.2 L1774.5,640.8Z M1781.2,640.6 L1786.5,640.2 L1786.5,640.8 L1781.2,641.2Z M1788.5,640.5 L1794.3,639.5 L1794.3,640.0 L1788.8,641.2Z M1778.1,626.5 L1780.7,623.9 L1782.3,620.2 L1789.6,619.0 L1790.1,620.0 L1784.6,622.3 L1783.3,624.6 L1786.5,623.3 L1787.0,624.6 L1783.9,627.0 L1784.4,630.6 L1782.5,631.1 L1781.2,628.5 L1780.4,632.7 L1778.9,631.9Z M1796.4,618.1 L1798.1,618.3 L1798.5,621.8 L1796.9,621.5Z M1793.8,628.5 L1797.4,628.0 L1803.1,629.1 L1803.1,629.8 L1797.4,629.1 L1793.8,629.4Z M1781.8,582.7 L1784.6,582.5 L1784.9,585.8 L1783.3,589.0 L1785.9,591.6 L1789.6,594.2 L1791.7,596.8 L1790.6,597.8 L1787.5,595.2 L1784.9,592.6 L1782.3,591.0 L1780.7,587.9Z M1785.4,597.1 L1788.5,596.8 L1789.8,599.9 L1787.5,600.6 L1785.6,599.2Z M1789.6,602.5 L1793.2,601.5 L1794.3,605.1 L1791.7,608.8 L1789.6,606.7 L1786.5,605.6 L1787.0,604.6Z M1775.0,603.5 L1779.0,598.9 L1779.6,599.4 L1775.6,604.1Z M1782.8,567.3 L1784.4,567.1 L1783.5,572.3 L1781.9,571.2Z M1757.1,580.1 L1759.9,579.1 L1760.4,580.6 L1757.8,581.7Z M1841.7,633.8 L1847.9,632.9 L1851.0,630.4 L1851.7,631.0 L1848.4,634.0 L1841.9,634.6Z M1827.4,518.5 L1830.0,520.6 L1835.7,521.1 L1831.6,524.3 L1829.0,523.8 L1824.8,526.4 L1824.3,524.3 L1826.9,521.7Z M1825.3,529.0 L1826.9,533.1 L1825.8,537.3 L1823.8,541.5 L1820.6,544.6 L1815.4,545.6 L1811.2,543.5 L1806.0,545.6 L1803.4,546.7 L1805.0,544.6 L1809.2,543.0 L1814.4,542.0 L1817.5,539.4 L1821.7,535.2 L1823.8,530.0Z M1801.6,548.5 L1804.9,549.2 L1804.5,553.3 L1801.6,552.4Z M1844.9,632.5 L1848.5,633.2 L1848.1,634.1 L1844.9,633.6Z M1853.9,634.7 L1857.5,635.4 L1857.1,636.3 L1853.9,635.9Z M1860.7,638.1 L1864.3,638.8 L1863.9,639.7 L1860.7,639.3Z M1866.3,642.0 L1869.9,642.6 L1869.5,643.5 L1866.3,643.1Z M1875.4,667.5 L1879.0,668.1 L1878.5,669.0 L1875.4,668.6Z M1902.4,659.6 L1906.1,660.2 L1905.6,661.1 L1902.4,660.7Z M1196.2,578.1 L1198.1,578.8 L1197.8,580.3 L1196.2,579.7Z" fill="#cecece" stroke="#cecece" stroke-width="0.6" stroke-linejoin="round"/>
<path d="M1228.3,441.6 L1228.3,473.9 L1233.4,477.8 L1241.2,485.6 L1247.5,493.4 M1267.8,507.2 L1324.1,507.2 L1328.8,509.8 L1332.7,512.5 M1360.8,522.3 L1367.8,520.8 L1376.4,516.9 L1378.8,513.0 L1383.4,511.4 L1385.8,515.3 M1281.1,549.4 L1288.1,551.2 L1295.9,552.0 L1300.6,553.6 L1305.3,557.5 L1310.8,559.8 L1313.9,556.7 L1317.8,560.6 L1321.7,562.2 M1328.0,585.6 L1331.1,582.5 L1335.0,581.7 L1336.6,580.2 M1338.1,591.1 L1339.7,587.2 L1342.0,587.2 M1346.7,598.1 L1347.5,593.4 M1373.6,597.5 L1372.8,602.2 L1375.9,606.1 L1383.8,608.4 L1384.5,614.7 L1386.1,618.6 M1386.1,618.6 L1390.8,617.8 L1393.1,614.7 L1390.8,613.1 L1394.7,612.3 L1399.4,610.8 L1398.6,606.9 L1400.2,604.5 M1399.4,610.8 L1401.7,616.2 L1404.1,617.8 L1408.0,616.2 L1413.8,615.5 L1418.1,613.9 M1405.6,610.8 L1408.0,616.2 M1413.0,610.0 L1413.8,615.5 M1386.1,618.6 L1380.6,619.4 L1379.8,624.8 L1378.3,628.8 L1373.6,631.9 L1371.2,636.6 L1372.8,641.2 L1375.9,642.4 M1361.1,619.4 L1367.3,622.5 L1366.6,626.4 L1359.5,630.3 L1356.8,630.3 M1367.3,622.5 L1372.8,626.4 L1378.3,628.8 M1376.7,663.9 L1388.5,668.4 L1394.4,678.7 L1403.3,681.6 L1409.2,674.3 L1418.0,674.3 L1419.5,683.1 L1416.6,692.0 M1394.4,678.7 L1390.0,692.0 L1382.6,699.4 L1379.7,712.6 L1376.7,725.9 L1373.8,739.2 M1403.3,681.6 L1406.2,692.0 L1412.1,694.9 M1493.3,574.8 L1501.1,574.8 L1502.7,570.2 L1503.4,564.7 L1510.5,563.1 L1510.5,560.0 M1515.9,567.0 L1516.7,586.6 L1503.4,587.3 L1500.3,583.4 L1494.1,585.8 M1511.2,562.3 L1537.8,580.7 L1554.2,570.9 L1549.5,564.7 L1550.3,560.0 M1554.2,570.9 L1560.5,571.7 L1562.0,578.8 L1561.2,583.4 L1557.3,591.2 L1558.9,595.2 M1560.5,571.7 L1579.2,578.4 L1580.8,574.1 L1580.8,560.0 M1580.8,574.1 L1601.9,573.3 L1603.4,570.2 M1579.2,578.4 L1577.7,585.8 L1574.5,592.8 L1576.1,597.5 L1572.2,600.6 M1537.8,580.7 L1537.0,586.6 L1530.0,589.7 L1523.0,592.8 L1518.3,597.5 M1537.0,594.4 L1540.2,592.0 L1550.3,592.8 L1557.3,591.2 M1537.0,594.4 L1535.5,603.8 L1536.2,606.9 M1558.9,595.2 L1555.0,603.8 L1551.9,606.9 L1548.0,610.0 M1503.4,587.3 L1504.2,592.8 L1509.7,595.2 L1511.2,600.6 L1512.8,606.9 M1512.0,599.8 L1522.2,599.1 L1523.4,603.8 L1522.6,610.0 M1528.4,599.1 L1529.2,608.4 M1531.6,598.3 L1532.3,607.7 M1534.7,596.7 L1533.9,606.1 M1558.9,595.2 L1561.2,603.8 L1567.5,603.8 L1572.2,600.6 L1576.1,597.5 L1583.9,608.4 L1592.5,613.1 L1600.3,610.8 L1601.9,603.8 L1598.0,603.8 L1601.9,595.2 L1604.2,592.8 M1561.2,603.8 L1559.7,608.4 L1562.0,613.9 L1568.3,610.8 L1574.5,611.6 L1583.9,610.0 L1591.7,613.9 L1593.3,617.0 L1590.9,622.5 L1589.4,628.0 L1589.4,634.2 M1604.2,590.5 L1612.8,589.7 L1619.1,597.5 L1628.4,604.5 L1622.2,610.0 L1615.2,613.1 L1612.8,611.6 L1606.6,613.1 L1601.9,610.8 M1615.2,613.1 L1614.4,620.9 L1615.9,624.1 M1600.3,626.4 L1609.7,630.3 L1612.0,632.7 M1592.5,613.1 L1593.3,619.4 L1600.3,619.4 L1601.9,614.7 L1601.9,610.8 M1548.8,616.2 L1558.1,616.2 L1558.9,621.7 L1555.0,627.2 L1558.1,630.3 L1562.8,628.0 L1565.9,614.7 L1562.0,613.9 M1556.6,633.4 L1562.8,633.4 L1565.2,637.3 L1573.0,636.6 L1573.8,642.8 M1619.8,584.2 L1626.9,582.7 L1636.2,579.5 L1640.0,575.6 M1557.2,641.3 L1570.8,642.4 L1573.0,649.2 L1583.2,648.1 L1587.7,642.4 L1599.0,641.3 M1570.8,642.4 L1569.7,656.0 L1565.1,658.2 L1557.2,658.2 M1569.7,656.0 L1578.7,659.3 L1587.7,656.0 L1592.2,648.1 M1565.1,658.2 L1567.4,667.2 L1573.0,672.9 L1583.2,669.5 L1590.0,663.9 L1592.2,657.1 L1587.7,656.0 M1592.2,657.1 L1599.0,658.2 L1603.5,661.6 M1556.2,475.2 L1554.7,463.4 L1558.6,458.8 L1562.5,451.7 L1564.8,447.0 L1570.3,443.1 L1574.2,441.6 M1577.3,455.2 L1578.1,447.8 L1574.2,442.3 M1591.4,474.0 L1587.5,469.7 L1594.5,465.0 L1592.2,455.6 L1590.6,449.4 L1592.2,444.7 L1589.1,441.6 M1587.5,475.5 L1586.7,479.1 L1588.3,483.8 L1586.7,486.9 L1593.0,488.4 L1595.3,493.9 L1592.2,497.8 L1597.7,497.8 L1600.8,500.9 L1603.9,502.5 L1612.5,506.4 L1610.9,510.3 L1607.8,512.7 L1604.7,514.2 M1577.0,479.1 L1582.8,480.6 L1586.7,479.1 M1573.8,486.1 L1579.7,485.3 L1584.4,486.9 L1586.7,486.9 M1570.3,491.6 L1575.0,491.6 L1578.9,493.9 L1584.4,488.4 M1559.4,494.7 L1560.2,499.4 L1561.7,501.7 L1566.4,504.1 L1571.9,505.6 L1576.6,504.8 L1578.1,499.4 L1578.9,493.9 M1578.1,499.4 L1585.9,499.4 L1592.2,497.8 M1535.2,502.1 L1537.5,504.1 L1542.2,506.4 L1543.8,510.3 L1543.0,514.2 L1546.1,515.0 L1550.0,518.1 M1561.7,501.7 L1557.0,503.3 L1556.2,506.4 L1560.2,508.8 L1566.4,506.4 L1571.9,505.6 M1543.8,510.3 L1548.4,511.1 L1554.7,510.3 L1560.2,508.8 M1554.7,510.3 L1556.2,513.4 L1562.5,512.7 L1566.4,510.3 L1566.4,506.4 M1566.4,510.3 L1573.4,508.8 L1576.6,504.8 M1573.4,508.8 L1575.0,513.4 L1582.0,510.3 L1585.9,508.8 L1588.3,513.4 L1592.2,514.2 M1575.0,513.4 L1572.7,516.6 L1568.8,515.0 L1562.5,512.7 M1572.7,516.6 L1575.0,522.0 L1582.0,521.2 L1585.9,522.8 M1568.8,515.0 L1567.2,518.1 L1570.3,522.8 L1575.0,522.0 M1515.6,521.6 L1514.8,525.9 L1511.7,526.7 M1527.0,522.0 L1532.8,523.6 L1536.7,522.8 M1612.5,506.4 L1617.2,502.5 L1621.9,504.1 L1628.1,501.7 L1632.8,500.2 L1639.1,499.4 L1644.5,501.7 L1652.3,500.9 L1660.0,497.8 M1628.1,501.7 L1626.6,506.4 L1629.7,510.3 L1628.1,515.0 M1615.9,523.4 L1620.6,526.6 L1626.9,525.0 L1630.0,529.7 M1605.8,541.4 L1612.8,539.1 L1620.6,537.5 L1626.9,539.1 L1630.0,546.9 L1629.7,554.7 M1626.9,539.1 L1625.3,531.2 L1630.0,529.7 L1632.3,532.8 M1643.3,535.9 L1651.9,534.4 L1659.7,537.5 L1658.1,546.9 L1661.2,556.2 L1659.7,567.2 M1659.7,537.5 L1667.5,534.4 L1676.9,532.8 L1683.1,535.9 L1687.8,531.2 M1661.2,556.2 L1672.2,553.1 L1675.3,543.8 L1683.1,535.9 M1676.1,573.4 L1680.0,565.6 L1683.1,559.4 L1681.6,551.6 L1687.8,546.9 L1692.5,540.6 L1687.8,531.2 M1692.5,540.6 L1698.8,546.9 L1706.6,553.1 L1714.4,556.2 L1719.1,554.7 L1723.8,551.6 L1730.0,553.1 M1717.5,568.8 L1719.1,562.5 L1723.8,559.4 L1730.0,553.1 L1733.1,559.4 L1736.2,565.6 L1733.1,571.9 L1734.7,581.2 M1736.2,565.6 L1744.1,567.2 L1748.8,571.9 L1751.9,573.4 M1734.7,581.2 L1739.4,578.1 L1744.1,581.2 L1748.8,578.1 L1752.7,578.1 M1744.1,581.2 L1745.6,587.5 L1751.9,592.2 L1755.0,596.9 M1660.0,493.4 L1669.4,490.3 L1678.8,488.8 L1688.1,493.4 L1697.5,499.7 L1705.3,502.8 L1713.1,507.5 L1722.5,505.9 L1728.8,502.8 L1736.6,499.7 L1744.4,504.4 L1753.8,505.9 L1763.1,507.5 L1772.5,505.9 L1780.3,501.2 L1785.0,495.0 L1792.8,495.0 L1800.6,501.2 L1806.9,507.5 L1810.0,510.6 M1713.1,507.5 L1722.5,515.3 L1728.8,520.0 L1741.2,524.7 L1753.8,526.2 L1763.1,521.6 L1772.5,516.9 L1780.3,512.2 L1772.5,505.9 M1713.1,507.5 L1706.9,513.8 L1699.1,520.0 L1691.2,526.2 L1683.4,532.5 L1675.6,538.8 M1810.0,510.6 L1806.9,518.4 L1800.6,526.2 L1797.5,532.5" fill="none" stroke="#e0e0e0" stroke-width="0.8" stroke-linejoin="round" clip-path="url(#land)"/>
<path d="M1332.7,512.2 L1336.6,509.1 L1342.0,507.5 L1347.5,511.4 L1345.9,513.0 L1339.7,513.0 L1335.0,514.5Z M1342.0,516.1 L1344.4,515.3 L1345.2,522.3 L1342.8,526.2 L1341.2,522.3Z M1347.5,515.3 L1353.8,516.1 L1356.9,520.0 L1352.2,522.3 L1349.8,519.2Z M1349.8,525.5 L1356.9,523.1 L1360.0,522.3 L1357.7,524.7 L1352.2,527.0Z M1359.2,521.2 L1364.7,520.0 L1365.5,521.2 L1360.8,522.3Z M1265.5,454.4 L1269.4,451.2 L1275.6,452.0 L1277.2,455.2 L1272.5,456.7 L1268.6,459.1Z M1281.1,470.0 L1285.0,466.9 L1294.4,465.3 L1292.8,467.7 L1286.6,471.6 L1282.7,472.3Z M1317.0,494.2 L1319.4,493.4 L1322.5,499.7 L1323.3,503.6 L1320.9,502.8 L1317.8,498.1Z M1588.6,525.8 L1590.2,521.9 L1591.7,517.2 L1594.1,514.1 L1598.8,515.6 L1601.1,518.0 L1604.2,515.6 L1607.3,513.8 L1610.5,515.6 L1614.4,519.5 L1616.2,523.4 L1612.8,525.8 L1605.0,525.3 L1598.8,525.0 L1592.5,526.6Z M1630.0,514.8 L1636.2,513.3 L1640.9,514.8 L1639.4,518.8 L1636.2,520.3 L1638.6,525.0 L1642.5,529.7 L1643.3,535.9 L1639.4,539.1 L1634.7,538.3 L1632.3,532.8 L1633.9,528.1 L1631.6,523.4 L1628.4,518.8Z M1652.7,517.2 L1655.8,515.6 L1657.8,518.8 L1655.8,521.6 L1653.1,520.3Z M1685.5,515.3 L1690.9,514.4 L1697.2,514.8 L1696.9,516.1 L1690.9,515.9 L1685.9,516.9Z M1746.7,500.5 L1753.8,493.4 L1758.1,488.4 L1759.4,489.5 L1755.3,495.0 L1748.3,501.6Z M1594.8,621.7 L1597.2,620.2 L1600.3,620.5 L1599.9,624.1 L1597.2,626.4 L1594.5,625.6Z M1589.2,628.8 L1590.2,628.6 L1592.5,638.1 L1591.6,638.3Z" fill="#fff"/>
<defs>
<linearGradient id="gh" x1="0" y1="0" x2="1" y2="0"><stop offset="0" stop-color="#1db87a"/><stop offset="1" stop-color="#18b4ee"/></linearGradient>
<linearGradient id="gc" x1="0" y1="0" x2="1" y2="0"><stop offset="0" stop-color="#1fb774"/><stop offset="0.55" stop-color="#19b9b5"/><stop offset="1" stop-color="#15b4f0"/></linearGradient>
</defs>
<rect x="55" y="87" width="1625" height="5" rx="2.5" fill="#cdcdcd"/>
<rect x="73.75" y="84.6" width="412.25" height="9.4" rx="4.7" fill="url(#gh)"/>
<circle cx="996.6" cy="147.00" r="3.5" fill="#c6c6c6"/>
<circle cx="996.6" cy="170.17" r="3.5" fill="#c6c6c6"/>
<circle cx="996.6" cy="193.34" r="3.5" fill="#c6c6c6"/>
<circle cx="996.6" cy="216.51" r="3.5" fill="#c6c6c6"/>
<circle cx="996.6" cy="239.68" r="3.5" fill="#c6c6c6"/>
<circle cx="996.6" cy="262.85" r="3.5" fill="#c6c6c6"/>
<circle cx="996.6" cy="286.02" r="3.5" fill="#c6c6c6"/>
<circle cx="996.6" cy="309.19" r="3.5" fill="#c6c6c6"/>
<circle cx="996.6" cy="332.36" r="3.5" fill="#c6c6c6"/>
<circle cx="996.6" cy="355.53" r="3.5" fill="#c6c6c6"/>
<circle cx="996.6" cy="378.70" r="3.5" fill="#c6c6c6"/>
<circle cx="996.6" cy="401.87" r="3.5" fill="#c6c6c6"/>
<circle cx="996.6" cy="425.04" r="3.5" fill="#c6c6c6"/>
<circle cx="996.6" cy="448.21" r="3.5" fill="#c6c6c6"/>
<circle cx="996.6" cy="471.38" r="3.5" fill="#c6c6c6"/>
<circle cx="996.6" cy="494.55" r="3.5" fill="#c6c6c6"/>
<circle cx="996.6" cy="517.72" r="3.5" fill="#c6c6c6"/>
<circle cx="996.6" cy="540.89" r="3.5" fill="#c6c6c6"/>
<circle cx="996.6" cy="564.06" r="3.5" fill="#c6c6c6"/>
<circle cx="996.6" cy="587.23" r="3.5" fill="#c6c6c6"/>
<circle cx="996.6" cy="610.40" r="3.5" fill="#c6c6c6"/>
<circle cx="996.6" cy="633.57" r="3.5" fill="#c6c6c6"/>
<circle cx="996.6" cy="656.74" r="3.5" fill="#c6c6c6"/>
<circle cx="996.6" cy="679.91" r="3.5" fill="#c6c6c6"/>
<circle cx="996.6" cy="703.08" r="3.5" fill="#c6c6c6"/>
<circle cx="996.6" cy="726.25" r="3.5" fill="#c6c6c6"/>
<circle cx="996.6" cy="749.42" r="3.5" fill="#c6c6c6"/>
<circle cx="996.6" cy="772.59" r="3.5" fill="#c6c6c6"/>
<circle cx="996.6" cy="795.76" r="3.5" fill="#c6c6c6"/>
<circle cx="996.6" cy="818.93" r="3.5" fill="#c6c6c6"/>
<circle cx="996.6" cy="842.10" r="3.5" fill="#c6c6c6"/>
<circle cx="996.6" cy="865.27" r="3.5" fill="#c6c6c6"/>
<circle cx="996.6" cy="888.44" r="3.5" fill="#c6c6c6"/>
<circle cx="996.6" cy="911.61" r="3.5" fill="#c6c6c6"/>
<circle cx="996.6" cy="934.78" r="3.5" fill="#c6c6c6"/>
<circle cx="996.6" cy="957.95" r="3.5" fill="#c6c6c6"/>
<circle cx="996.6" cy="981.12" r="3.5" fill="#c6c6c6"/>
<circle cx="996.6" cy="1004.29" r="3.5" fill="#c6c6c6"/>
<circle cx="996.6" cy="1027.46" r="3.5" fill="#c6c6c6"/>
<circle cx="996.6" cy="1050.63" r="3.5" fill="#c6c6c6"/>
<path d="M357.77,323.57 A57.6,57.6 0 1 1 375.85,306.41" fill="none" stroke="#454d9a" stroke-width="10" stroke-linecap="round"/>
<path d="M327.8,235.2 V274 L308.3,293.6" fill="none" stroke="#454d9a" stroke-width="10" stroke-linecap="round" stroke-linejoin="round"/>
<path d="M623.5,238.4 V293.5 H613 V250.5 L602.6,255.6 L601.5,249 L614.3,238.4 Z" fill="#0fa5e0" stroke="#0fa5e0" stroke-width="3" stroke-linejoin="round"/>
<g fill="none" stroke="#1a9edb" stroke-width="3" stroke-linecap="round" stroke-linejoin="round">
<path d="M133.81,437.20 A11.2,11.2 0 1 1 150.39,437.20"/>
<path d="M133.81,437.20 C127.00,438.80 124.00,442.30 124.00,449.30 V473.00 Q124.00,478.00 129.00,478.00 H132.40 M150.39,437.20 C157.20,438.80 160.20,442.30 160.20,449.30 V473.00 Q160.20,478.00 155.20,478.00 H151.80 M132.40,450.50 V501.00 a4.85,3.5 0 0 0 9.70,0 V473.20 V501.00 a4.85,3.5 0 0 0 9.70,0 V450.50"/>
<path d="M181.17,408.71 A11.8,11.8 0 1 1 198.63,408.71"/>
<path d="M181.17,408.71 C172.90,411.10 169.90,414.60 169.90,421.60 V459.20 Q169.90,464.20 174.90,464.20 H179.20 M198.63,408.71 C206.90,411.10 209.90,414.60 209.90,421.60 V459.20 Q209.90,464.20 204.90,464.20 H200.60 M179.20,424.00 V501.00 a5.35,3.5 0 0 0 10.70,0 V460.00 V501.00 a5.35,3.5 0 0 0 10.70,0 V424.00"/>
<path d="M231.87,421.31 A11.8,11.8 0 1 1 249.33,421.31"/>
<path d="M231.87,421.31 C223.60,424.30 220.60,427.80 220.60,434.80 V461.60 Q220.60,466.60 225.60,466.60 H230.25 M249.33,421.31 C257.60,424.30 260.60,427.80 260.60,434.80 V452.00 Q260.60,456.50 256.60,456.50 H253.95 M258.10,456.5 V506 M230.25,436.70 V501.00 a5.17,3.5 0 0 0 10.35,0 V470.00 V501.00 a5.17,3.5 0 0 0 10.35,0 V436.70"/>
</g>
<path d="M124,458.3 V463.4 M200.6,483.5 V488 M220.6,445.8 V450.2" stroke="#fff" stroke-width="4.5" fill="none"/>
<rect x="309" y="382.5" width="141.8" height="39.3" fill="url(#gc)"/>
<rect x="458.9" y="382.5" width="140" height="39.3" fill="#0a72b8"/>
<rect x="614" y="382.5" width="141.4" height="39.3" fill="url(#gc)"/>
<rect x="763.5" y="382.5" width="140.3" height="39.3" fill="#0a72b8"/>
<rect x="309" y="427.5" width="141.8" height="39.1" fill="url(#gc)"/>
<rect x="458.9" y="427.5" width="140" height="39.1" fill="#0a72b8"/>
<rect x="614" y="427.5" width="141.4" height="39.1" fill="url(#gc)"/>
<rect x="763.5" y="427.5" width="140.3" height="39.1" fill="#0a72b8"/>
<rect x="309" y="472.1" width="141.8" height="39.3" fill="url(#gc)"/>
<rect x="458.9" y="472.1" width="140" height="39.3" fill="#0a72b8"/>
<rect x="614" y="472.1" width="141.4" height="39.3" fill="url(#gc)"/>
<rect x="763.5" y="472.1" width="140.3" height="39.3" fill="#0a72b8"/>
<g fill="#fb0d62">
<circle cx="473.6" cy="637.9" r="8.9"/>
<rect x="459.6" y="649.3" width="28" height="12" rx="5.5"/>
<path d="M463.6,655 H483.6 L483.2,662.8 L493.7,701.6 H454.6 L463.6,662.8 Z"/>
<path d="M462.6,654.5 L453.5,683.3 M484.6,654.5 L493.7,683.3" stroke="#fb0d62" stroke-width="6.4" stroke-linecap="round" fill="none"/>
<path d="M464.9,700 H472.5 V732.8 a3.8,3.8 0 0 1 -7.6,0 Z M475.3,700 H483.2 V732.7 a3.95,3.95 0 0 1 -7.9,0 Z"/>
</g>
<line x1="517.3" y1="630.3" x2="517.3" y2="738.2" stroke="#d0d0d0" stroke-width="1.3"/>
<g fill="#0d6ebb">
<circle cx="564.2" cy="635.2" r="8.9"/>
<path d="M551,646 H577 Q585.6,646 585.6,654.5 V686 a4,4 0 0 1 -8,0 V661 h-2.3 V731.5 a4.95,4.95 0 0 1 -9.9,0 V690 h-2.6 V731.5 a4.95,4.95 0 0 1 -9.9,0 V661 h-2.3 V686 a4,4 0 0 1 -8,0 V654.5 Q542.4,646 551,646 Z"/>
</g>
<circle cx="216.2" cy="916.4" r="59.4" fill="none" stroke="#e4e4e4" stroke-width="8.8"/>
<path d="M216.20,857.00 A59.4,59.4 0 0 1 271.04,893.57" fill="none" stroke="#fff" stroke-width="15" stroke-linecap="round"/>
<path d="M216.20,857.00 A59.4,59.4 0 0 1 271.04,893.57" fill="none" stroke="#454d9a" stroke-width="13" stroke-linecap="round"/>
<circle cx="417.1" cy="916.4" r="59.4" fill="none" stroke="#e4e4e4" stroke-width="8.8"/>
<path d="M417.10,857.00 A59.4,59.4 0 0 1 467.58,947.70" fill="none" stroke="#fff" stroke-width="15" stroke-linecap="round"/>
<path d="M417.10,857.00 A59.4,59.4 0 0 1 467.58,947.70" fill="none" stroke="#000" stroke-width="13" stroke-linecap="round"/>
<circle cx="608.7" cy="916.4" r="59.4" fill="none" stroke="#e4e4e4" stroke-width="8.8"/>
<path d="M608.70,857.00 A59.4,59.4 0 0 1 632.00,971.04" fill="none" stroke="#fff" stroke-width="15" stroke-linecap="round"/>
<path d="M608.70,857.00 A59.4,59.4 0 0 1 632.00,971.04" fill="none" stroke="#2a6cb5" stroke-width="13" stroke-linecap="round"/>
<circle cx="809.9" cy="916.4" r="59.4" fill="none" stroke="#e4e4e4" stroke-width="8.8"/>
<path d="M809.90,857.00 A59.4,59.4 0 0 1 843.63,867.51" fill="none" stroke="#fff" stroke-width="15" stroke-linecap="round"/>
<path d="M809.90,857.00 A59.4,59.4 0 0 1 843.63,867.51" fill="none" stroke="#de1a4f" stroke-width="13" stroke-linecap="round"/>
<path transform="translate(208.29,886.6) scale(0.04830,0.05488)" fill="#3b4396" d="M279.14 288l14.22-92.66h-88.91v-60.13c0-25.35 12.42-50.06 52.24-50.06h40.42V6.26S260.43 0 225.36 0c-73.22 0-121.08 44.38-121.08 124.72v70.62H22.89V288h81.39v224h100.17V288z"/>
<path transform="translate(402.21,887.26) scale(0.05541,0.05913)" fill="#000" d="M389.2 48h70.6L305.6 224.2 487 464H345L233.7 318.6 106.5 464H35.8L200.7 275.5 26.8 48H172.4L272.9 180.9 389.2 48zM364.4 421.8h39.1L151.1 88h-42L364.4 421.8z"/>
<path transform="translate(595,889.2) scale(0.06095,0.05692)" fill="#2a6cb5" d="M100.28 448H7.4V148.9h92.88zM53.79 108.1C24.09 108.1 0 83.5 0 53.8a53.79 53.79 0 0 1 107.58 0c0 29.7-24.1 54.3-53.79 54.3zM447.9 448h-92.68V302.4c0-34.7-.7-79.2-48.29-79.2-48.29 0-55.69 37.7-55.69 76.7V448h-92.78V148.9h89.08v40.8h1.3c12.4-23.5 42.69-48.3 87.88-48.3 94 0 111.28 61.9 111.28 142.3V448z"/>
<g fill="none" stroke="#d6143f" stroke-width="2.5"><rect x="796.7" y="887.3" width="27" height="26.6" rx="6"/><circle cx="810" cy="901.2" r="6.6"/></g><circle cx="818.2" cy="892.6" r="1.7" fill="#d6143f"/>
<rect x="1293.4" y="642.9" width="517.8" height="149" rx="25" fill="rgb(24,153,221)" fill-opacity="0.71"/>
<g fill="none" stroke="#fff" stroke-width="3.2" stroke-linejoin="round" stroke-linecap="round">
<circle cx="1382.2" cy="704.5" r="9.9"/><circle cx="1441.3" cy="704.2" r="9.9"/><circle cx="1411.5" cy="697.1" r="13.1"/>
<path d="M1386.45,748.2 V740.3 a25.35,25.35 0 0 1 50.7,0 V748.2 a3,3 0 0 1 -3,3 H1389.45 a3,3 0 0 1 -3,-3 Z"/>
<path d="M1392.5,723.9 A17.9,17.9 0 0 0 1364.3,738.5 V742.7 a3,3 0 0 0 3,3 H1386"/>
<path d="M1431.1,723.9 A17.9,17.9 0 0 1 1459.3,738.5 V742.7 a3,3 0 0 1 -3,3 H1437.6"/>
</g>
<polygon points="1308.7,287.5 1309.7,287.5 1310.4,570 1308.0,570" fill="#5a5f73" fill-opacity="0.46"/>
<circle cx="1309.2" cy="570" r="4.7" fill="#fff"/>
<circle cx="1309.2" cy="287.5" r="7.5" fill="#12b573"/>
<polygon points="1542.4,254.4 1543.4,254.4 1544.1000000000001,508.5 1541.7,508.5" fill="#5a5f73" fill-opacity="0.46"/>
<circle cx="1542.9" cy="508.5" r="4.7" fill="#fff"/>
<circle cx="1542.9" cy="254.4" r="7.5" fill="#fdc30f"/>
<polygon points="1603.6,354.8 1604.6,354.8 1605.3,636.5 1602.8999999999999,636.5" fill="#5a5f73" fill-opacity="0.46"/>
<circle cx="1604.1" cy="636.5" r="4.7" fill="#fff"/>
<circle cx="1604.1" cy="354.8" r="7.5" fill="#0a84f5"/>
<polygon points="1727.0,231.1 1728.0,231.1 1728.7,513 1726.3,513" fill="#5a5f73" fill-opacity="0.46"/>
<circle cx="1727.5" cy="513" r="4.7" fill="#fff"/>
<circle cx="1727.5" cy="231.1" r="7.5" fill="#1010f5"/>
<polygon points="1809.9,390.3 1810.9,390.3 1811.6000000000001,672.5 1809.2,672.5" fill="#5a5f73" fill-opacity="0.46"/>
<circle cx="1810.4" cy="672.5" r="4.7" fill="#fff"/>
<circle cx="1810.4" cy="390.3" r="7.5" fill="#ff1a5e"/>
<rect x="1040.6" y="770.6" width="34.7" height="295" rx="17.35" fill="url(#gh)"/>
<rect x="1099.8" y="817.90" width="64.7" height="33.6" rx="16.8" fill="url(#gh)"/>
<clipPath id="cp1"><rect x="1099.8" y="870.23" width="64.7" height="33.6" rx="16.8"/></clipPath>
<g clip-path="url(#cp1)"><rect x="1099.8" y="870.23" width="64.7" height="33.6" fill="#fff"/><rect x="1099.8" y="887.03" width="64.7" height="16.8" fill="#e2231a"/><rect x="1099.8" y="870.23" width="19.4" height="16.8" fill="#1c2fa0"/><polygon points="1110.60,874.53 1111.59,877.57 1114.78,877.57 1112.20,879.45 1113.19,882.49 1110.60,880.61 1108.01,882.49 1109.00,879.45 1106.42,877.57 1109.61,877.57" fill="#fff"/></g>
<rect x="1099.8" y="870.23" width="64.7" height="33.6" rx="16.8" fill="none" stroke="#48c8d8" stroke-width="0.9"/>
<clipPath id="cp2"><rect x="1099.8" y="922.56" width="64.7" height="33.6" rx="16.8"/></clipPath>
<g clip-path="url(#cp2)"><rect x="1099.8" y="922.56" width="64.7" height="33.6" fill="#fff"/><rect x="1099.8" y="939.36" width="64.7" height="16.8" fill="#e2231a"/><rect x="1099.8" y="922.56" width="19.4" height="16.8" fill="#1c2fa0"/><polygon points="1110.60,926.86 1111.59,929.90 1114.78,929.90 1112.20,931.78 1113.19,934.82 1110.60,932.94 1108.01,934.82 1109.00,931.78 1106.42,929.90 1109.61,929.90" fill="#fff"/></g>
<rect x="1099.8" y="922.56" width="64.7" height="33.6" rx="16.8" fill="none" stroke="#48c8d8" stroke-width="0.9"/>
<clipPath id="cp3"><rect x="1099.8" y="974.89" width="64.7" height="33.6" rx="16.8"/></clipPath>
<g clip-path="url(#cp3)"><rect x="1099.8" y="974.89" width="64.7" height="33.6" fill="#fff"/><rect x="1099.8" y="991.69" width="64.7" height="16.8" fill="#e2231a"/><rect x="1099.8" y="974.89" width="19.4" height="16.8" fill="#1c2fa0"/><polygon points="1110.60,979.19 1111.59,982.23 1114.78,982.23 1112.20,984.11 1113.19,987.15 1110.60,985.27 1108.01,987.15 1109.00,984.11 1106.42,982.23 1109.61,982.23" fill="#fff"/></g>
<rect x="1099.8" y="974.89" width="64.7" height="33.6" rx="16.8" fill="none" stroke="#48c8d8" stroke-width="0.9"/>
<clipPath id="cp4"><rect x="1099.8" y="1027.22" width="64.7" height="33.6" rx="16.8"/></clipPath>
<g clip-path="url(#cp4)"><rect x="1099.8" y="1027.22" width="64.7" height="33.6" fill="#fff"/><rect x="1123.8" y="1030.95" width="64.7" height="3.73" fill="#1a3fb0"/><rect x="1123.8" y="1038.42" width="64.7" height="3.73" fill="#1a3fb0"/><rect x="1099.8" y="1045.89" width="64.7" height="3.73" fill="#1a3fb0"/><rect x="1099.8" y="1053.35" width="64.7" height="3.73" fill="#1a3fb0"/><polygon points="1112.10,1028.32 1114.45,1033.28 1119.90,1033.99 1115.90,1037.76 1116.92,1043.15 1112.10,1040.52 1107.28,1043.15 1108.30,1037.76 1104.30,1033.99 1109.75,1033.28" fill="#e8a825"/><polygon points="1120.14,1038.12 1115.43,1038.74 1116.66,1043.34 1112.88,1040.44 1110.50,1044.56 1109.88,1039.85 1105.28,1041.08 1108.18,1037.30 1104.06,1034.92 1108.77,1034.30 1107.54,1029.70 1111.32,1032.60 1113.70,1028.48 1114.32,1033.19 1118.92,1031.96 1116.02,1035.74" fill="#e8a825"/><circle cx="1112.1" cy="1036.52" r="4.2" fill="#f0b830" stroke="#a87010" stroke-width="0.5"/></g>
<rect x="1099.8" y="1027.22" width="64.7" height="33.6" rx="16.8" fill="none" stroke="#48c8d8" stroke-width="0.9"/>
<clipPath id="cp5"><rect x="1558.8" y="817.90" width="64.7" height="33.6" rx="16.8"/></clipPath>
<g clip-path="url(#cp5)"><rect x="1558.8" y="817.90" width="64.7" height="33.6" fill="#fff"/><rect x="1558.8" y="817.90" width="22" height="33.6" fill="#d9002a"/><rect x="1601.8" y="817.90" width="22" height="33.6" fill="#d9002a"/></g>
<rect x="1558.8" y="817.90" width="64.7" height="33.6" rx="16.8" fill="none" stroke="#48c8d8" stroke-width="0.9"/>
<clipPath id="cp6"><rect x="1558.8" y="870.23" width="64.7" height="33.6" rx="16.8"/></clipPath>
<g clip-path="url(#cp6)"><rect x="1558.8" y="870.23" width="64.7" height="33.6" fill="#fff"/><rect x="1558.8" y="870.23" width="64.7" height="10.6" fill="#79b2e2"/><rect x="1558.8" y="893.23" width="64.7" height="10.6" fill="#79b2e2"/><circle cx="1591.0" cy="887.03" r="4.6" fill="#f3a73a"/><circle cx="1591.0" cy="887.03" r="2.4" fill="#c47a1c"/></g>
<rect x="1558.8" y="870.23" width="64.7" height="33.6" rx="16.8" fill="none" stroke="#48c8d8" stroke-width="0.9"/>
<clipPath id="cp7"><rect x="1558.8" y="922.56" width="64.7" height="33.6" rx="16.8"/></clipPath>
<g clip-path="url(#cp7)"><rect x="1558.8" y="922.56" width="64.7" height="33.6" fill="#fff"/><rect x="1558.8" y="939.36" width="64.7" height="16.8" fill="#e2231a"/><rect x="1558.8" y="922.56" width="19.4" height="16.8" fill="#1c2fa0"/><polygon points="1569.60,926.86 1570.59,929.90 1573.78,929.90 1571.20,931.78 1572.19,934.82 1569.60,932.94 1567.01,934.82 1568.00,931.78 1565.42,929.90 1568.61,929.90" fill="#fff"/></g>
<rect x="1558.8" y="922.56" width="64.7" height="33.6" rx="16.8" fill="none" stroke="#48c8d8" stroke-width="0.9"/>
<clipPath id="cp8"><rect x="1558.8" y="974.89" width="64.7" height="33.6" rx="16.8"/></clipPath>
<g clip-path="url(#cp8)"><rect x="1558.8" y="974.89" width="64.7" height="33.6" fill="#fff"/><rect x="1591.0" y="974.89" width="32.5" height="16.8" fill="#da121a"/><rect x="1558.8" y="991.69" width="32.2" height="16.8" fill="#0f2560"/><polygon points="1574.80,978.69 1575.92,982.14 1579.56,982.14 1576.62,984.28 1577.74,987.74 1574.80,985.60 1571.86,987.74 1572.98,984.28 1570.04,982.14 1573.68,982.14" fill="#0f2560"/><polygon points="1607.30,994.89 1608.42,998.34 1612.06,998.34 1609.12,1000.48 1610.24,1003.94 1607.30,1001.80 1604.36,1003.94 1605.48,1000.48 1602.54,998.34 1606.18,998.34" fill="#da121a"/></g>
<rect x="1558.8" y="974.89" width="64.7" height="33.6" rx="16.8" fill="none" stroke="#48c8d8" stroke-width="0.9"/>
<clipPath id="cp9"><rect x="1558.8" y="1027.22" width="64.7" height="33.6" rx="16.8"/></clipPath>
<g clip-path="url(#cp9)"><rect x="1558.8" y="1027.22" width="64.7" height="33.6" fill="#fff"/><rect x="1558.8" y="1027.22" width="64.7" height="6.72" fill="#0a2fa0"/><rect x="1558.8" y="1040.66" width="64.7" height="6.72" fill="#0a2fa0"/><rect x="1558.8" y="1054.10" width="64.7" height="6.72" fill="#0a2fa0"/><polygon points="1558.8,1027.22 1589.3,1044.02 1558.8,1060.82" fill="#cf142b"/><polygon points="1568.80,1039.62 1569.79,1042.66 1572.98,1042.66 1570.40,1044.54 1571.39,1047.58 1568.80,1045.70 1566.21,1047.58 1567.20,1044.54 1564.62,1042.66 1567.81,1042.66" fill="#fff"/></g>
<rect x="1558.8" y="1027.22" width="64.7" height="33.6" rx="16.8" fill="none" stroke="#48c8d8" stroke-width="0.9"/>

</svg>
<div class="t" style="left:65.77px;top:55.86px;font-size:21.9px;font-weight:400;color:#0d5aa7;transform:scaleX(1.0188);-webkit-text-stroke:0.3px #0d5aa7;">Estadísticas Audiencia - NOVIEMBRE2024</div>
<div class="t" style="left:163.20px;top:103.45px;font-size:21.2px;font-weight:400;color:#1a98d8;transform:scaleX(0.9478);-webkit-text-stroke:0.3px #1a98d8;">INFORME DE LECTORÍA</div>
<div class="t" style="left:1702.31px;top:41.60px;font-size:37.8px;font-weight:700;color:#0a62ad;transform:scaleX(1.0521);"><span style="color:#0a62ad">Portal</span><span style="color:#12a3e0">Portuario</span></div>
<div class="t" style="left:1704.89px;top:77.02px;font-size:16.4px;font-weight:700;color:#0a56a5;transform:scaleX(1.0754);">Todos los puertos en un solo sitio</div>
<div class="t" style="left:416.65px;top:226.28px;font-size:80px;font-weight:700;color:#0fa5e0;transform:scaleX(1.0387);-webkit-text-stroke:2.2px #0fa5e0;">0</div>
<div class="t" style="left:468.78px;top:226.28px;font-size:80px;font-weight:700;color:#0fa5e0;transform:scaleX(1.0477);-webkit-text-stroke:2.2px #0fa5e0;">0</div>
<div class="t" style="left:516.80px;top:226.28px;font-size:80px;font-weight:700;color:#0fa5e0;transform:scaleX(1.1200);-webkit-text-stroke:2.2px #0fa5e0;">:</div>
<div class="t" style="left:548.91px;top:226.28px;font-size:80px;font-weight:700;color:#0fa5e0;transform:scaleX(1.0374);-webkit-text-stroke:2.2px #0fa5e0;">0</div>
<div class="t" style="left:627.76px;top:226.28px;font-size:80px;font-weight:700;color:#0fa5e0;transform:scaleX(1.1520);-webkit-text-stroke:2.2px #0fa5e0;">:</div>
<div class="t" style="left:659.44px;top:226.28px;font-size:80px;font-weight:700;color:#0fa5e0;transform:scaleX(1.0632);-webkit-text-stroke:2.2px #0fa5e0;">0</div>
<div class="t" style="left:712.01px;top:226.28px;font-size:80px;font-weight:700;color:#0fa5e0;transform:scaleX(1.0374);-webkit-text-stroke:2.2px #0fa5e0;">0</div>
<div class="t" style="left:468.20px;top:302.27px;font-size:20px;font-weight:700;color:#4a4a4a;transform:scaleX(0.9902);letter-spacing:1px;">TIEMPO EN PANTALLA</div>
<div class="t" style="left:351.75px;top:387.07px;font-size:33px;font-weight:700;color:#fff;transform:scaleX(1.0406);">18-24</div>
<div class="t" style="left:346.56px;top:431.87px;font-size:33px;font-weight:700;color:#fff;transform:scaleX(1.1019);">25-34</div>
<div class="t" style="left:344.72px;top:476.67px;font-size:33px;font-weight:700;color:#fff;transform:scaleX(1.1237);">35-44</div>
<div class="t" style="left:647.70px;top:387.07px;font-size:33px;font-weight:700;color:#fff;transform:scaleX(1.1192);">45-54</div>
<div class="t" style="left:647.12px;top:431.87px;font-size:33px;font-weight:700;color:#fff;transform:scaleX(1.1261);">55-64</div>
<div class="t" style="left:682.79px;top:476.67px;font-size:33px;font-weight:700;color:#fff;transform:scaleX(1.0808);">+65</div>
<div class="t" style="left:468.22px;top:387.07px;font-size:33px;font-weight:700;color:#fff;transform:scaleX(1.0372);">3%</div>
<div class="t" style="left:467.65px;top:431.87px;font-size:33px;font-weight:700;color:#fff;transform:scaleX(1.0661);">9%</div>
<div class="t" style="left:467.65px;top:476.67px;font-size:33px;font-weight:700;color:#fff;transform:scaleX(1.0661);">9%</div>
<div class="t" style="left:774.19px;top:387.07px;font-size:33px;font-weight:700;color:#fff;transform:scaleX(1.0798);">20%</div>
<div class="t" style="left:774.76px;top:431.87px;font-size:33px;font-weight:700;color:#fff;transform:scaleX(1.0405);">32%</div>
<div class="t" style="left:774.25px;top:476.67px;font-size:33px;font-weight:700;color:#fff;transform:scaleX(1.0225);">27%</div>
<div class="t" style="left:492.27px;top:534.87px;font-size:20px;font-weight:700;color:#4a4a4a;transform:scaleX(0.9481);letter-spacing:1px;">LECTORES POR EDAD</div>
<div class="t" style="left:284.14px;top:639.84px;font-size:71.3px;font-weight:700;color:#fb0d62;transform:scaleX(1.0590);-webkit-text-stroke:0.8px #fb0d62;">23%</div>
<div class="t" style="left:282.15px;top:709.83px;font-size:12.6px;font-weight:400;color:#8c8c8c;transform:scaleX(1.0903);">de los lectores</div>
<div class="t" style="left:282.37px;top:725.53px;font-size:12.6px;font-weight:400;color:#8c8c8c;transform:scaleX(1.0879);">son mujeres</div>
<div class="t" style="left:594.78px;top:639.84px;font-size:71.3px;font-weight:700;color:#0d6ebb;transform:scaleX(1.0433);-webkit-text-stroke:0.8px #0d6ebb;">77%</div>
<div class="t" style="left:603.85px;top:709.83px;font-size:12.6px;font-weight:400;color:#8c8c8c;transform:scaleX(1.0941);">de los lectores</div>
<div class="t" style="left:604.07px;top:725.53px;font-size:12.6px;font-weight:400;color:#8c8c8c;transform:scaleX(1.0924);">son hombres</div>
<div class="t" style="left:381.57px;top:772.07px;font-size:20px;font-weight:700;color:#4a4a4a;transform:scaleX(0.9435);letter-spacing:1px;">LECTORES POR GÉNERO</div>
<div class="t" style="left:183.74px;top:923.61px;font-size:19.6px;font-weight:400;color:#4a4a4a;transform:scaleX(1.1798);letter-spacing:1px;-webkit-text-stroke:0.4px #4a4a4a;">9.800</div>
<div class="t" style="left:379.27px;top:923.61px;font-size:19.6px;font-weight:400;color:#4a4a4a;transform:scaleX(1.0950);letter-spacing:1px;-webkit-text-stroke:0.4px #4a4a4a;">18.302</div>
<div class="t" style="left:574.03px;top:923.61px;font-size:19.6px;font-weight:400;color:#4a4a4a;transform:scaleX(1.0954);letter-spacing:1px;-webkit-text-stroke:0.4px #4a4a4a;">33.753</div>
<div class="t" style="left:781.45px;top:923.61px;font-size:19.6px;font-weight:400;color:#4a4a4a;transform:scaleX(1.0768);letter-spacing:1px;-webkit-text-stroke:0.4px #4a4a4a;">5.991</div>
<div class="t" style="left:270.65px;top:995.49px;font-size:19.5px;font-weight:400;color:#6a6a6a;transform:scaleX(1.1587);letter-spacing:1.2px;">En el mes de noviembre</div>
<div class="t" style="left:550.75px;top:995.49px;font-size:19.5px;font-weight:700;color:#0d5aa7;transform:scaleX(1.1341);letter-spacing:1px;">@PortalPortuario</div>
<div class="t" style="left:296.08px;top:1022.99px;font-size:19.5px;font-weight:400;color:#6a6a6a;transform:scaleX(1.1545);letter-spacing:1.2px;">cuenta con más de</div>
<div class="t" style="left:516.16px;top:1022.99px;font-size:19.5px;font-weight:700;color:#f00a14;transform:scaleX(1.2065);letter-spacing:1px;">67.840</div>
<div class="t" style="left:602.41px;top:1022.99px;font-size:19.5px;font-weight:400;color:#6a6a6a;transform:scaleX(1.1733);letter-spacing:1.2px;">seguidores</div>
<div class="t" style="left:875.08px;top:1113.38px;font-size:22.7px;font-weight:400;color:#858585;transform:scaleX(0.9573);letter-spacing:1.5px;">Fuente: Google Analytics 4</div>
<div class="t" style="left:1287.28px;top:221.30px;font-size:28px;font-weight:700;color:#12b573;transform:scaleX(0.7048);-webkit-text-stroke:0.7px #12b573;">95%</div>
<div class="t" style="left:1527.50px;top:188.40px;font-size:28px;font-weight:700;color:#fdc30f;transform:scaleX(0.6763);-webkit-text-stroke:0.7px #fdc30f;">4%</div>
<div class="t" style="left:1574.18px;top:290.50px;font-size:28px;font-weight:700;color:#0a84f5;transform:scaleX(0.7092);-webkit-text-stroke:0.7px #0a84f5;">0,04%</div>
<div class="t" style="left:1703.18px;top:163.80px;font-size:28px;font-weight:700;color:#1010f5;transform:scaleX(0.7050);-webkit-text-stroke:0.7px #1010f5;">0,9%</div>
<div class="t" style="left:1780.08px;top:325.10px;font-size:28px;font-weight:700;color:#ff1a5e;transform:scaleX(0.7053);-webkit-text-stroke:0.7px #ff1a5e;">0,06%</div>
<div class="t" style="left:1269.20px;top:251.01px;font-size:18px;font-weight:400;color:#222;transform:scaleX(0.9630);letter-spacing:2.5px;-webkit-text-stroke:0.3px #222;">América</div>
<div class="t" style="left:1507.40px;top:218.06px;font-size:18px;font-weight:400;color:#222;transform:scaleX(0.9627);letter-spacing:2.5px;-webkit-text-stroke:0.3px #222;">Europa</div>
<div class="t" style="left:1575.40px;top:320.16px;font-size:18px;font-weight:400;color:#222;transform:scaleX(0.9608);letter-spacing:2.5px;-webkit-text-stroke:0.3px #222;">África</div>
<div class="t" style="left:1706.10px;top:193.36px;font-size:18px;font-weight:400;color:#222;transform:scaleX(0.9529);letter-spacing:2.5px;-webkit-text-stroke:0.3px #222;">Asia</div>
<div class="t" style="left:1770.05px;top:354.46px;font-size:18px;font-weight:400;color:#222;transform:scaleX(0.9316);letter-spacing:2.5px;-webkit-text-stroke:0.3px #222;">Oceanía</div>
<div class="t" style="left:1509.63px;top:658.88px;font-size:93px;font-weight:700;color:#fff;transform:scaleX(0.6771);-webkit-text-stroke:1.6px #fff;">7</div>
<div class="t" style="left:1545.09px;top:658.88px;font-size:93px;font-weight:700;color:#fff;transform:scaleX(0.6559);-webkit-text-stroke:1.6px #fff;">9</div>
<div class="t" style="left:1580.86px;top:658.88px;font-size:93px;font-weight:700;color:#fff;transform:scaleX(0.6486);-webkit-text-stroke:1.6px #fff;">3</div>
<div class="t" style="left:1613.40px;top:658.88px;font-size:93px;font-weight:700;color:#fff;transform:scaleX(0.7570);-webkit-text-stroke:1.6px #fff;">.</div>
<div class="t" style="left:1631.09px;top:658.88px;font-size:93px;font-weight:700;color:#fff;transform:scaleX(0.6904);-webkit-text-stroke:1.6px #fff;">0</div>
<div class="t" style="left:1666.52px;top:658.88px;font-size:93px;font-weight:700;color:#fff;transform:scaleX(0.6817);-webkit-text-stroke:1.6px #fff;">2</div>
<div class="t" style="left:1702.25px;top:658.88px;font-size:93px;font-weight:700;color:#fff;transform:scaleX(0.6506);-webkit-text-stroke:1.6px #fff;">3</div>
<div class="t" style="left:1507.30px;top:746.94px;font-size:26.3px;font-weight:700;color:#fff;transform:scaleX(0.9522);letter-spacing:1px;-webkit-text-stroke:0.6px #fff;">TOTAL USUARIOS</div>
<div class="t" style="left:1178.79px;top:818.57px;font-size:32.4px;font-weight:400;color:#000;transform:scaleX(1.0325);-webkit-text-stroke:0.5px #000;">Indeterminado: 24%</div>
<div class="t" style="left:1179.92px;top:870.87px;font-size:32.4px;font-weight:400;color:#000;transform:scaleX(0.9765);-webkit-text-stroke:0.5px #000;">Gran Santiago: 16%</div>
<div class="t" style="left:1179.91px;top:923.17px;font-size:32.4px;font-weight:400;color:#000;transform:scaleX(0.9783);-webkit-text-stroke:0.5px #000;">Gran Concepción: 5,2%</div>
<div class="t" style="left:1179.93px;top:975.57px;font-size:32.4px;font-weight:400;color:#000;transform:scaleX(0.9672);-webkit-text-stroke:0.5px #000;">Gran Valparaíso: 2,1%</div>
<div class="t" style="left:1178.86px;top:1027.87px;font-size:32.4px;font-weight:400;color:#000;transform:scaleX(1.0052);-webkit-text-stroke:0.5px #000;">Montevideo: 2,1%</div>
<div class="t" style="left:1638.99px;top:818.57px;font-size:32.4px;font-weight:400;color:#000;transform:scaleX(1.0021);-webkit-text-stroke:0.5px #000;">Trujillo: 2%</div>
<div class="t" style="left:1637.00px;top:870.87px;font-size:32.4px;font-weight:400;color:#000;transform:scaleX(0.9891);-webkit-text-stroke:0.5px #000;">Buenos Aires: 1,6%</div>
<div class="t" style="left:1638.50px;top:923.17px;font-size:32.4px;font-weight:400;color:#000;transform:scaleX(0.9853);-webkit-text-stroke:0.5px #000;">San Antonio: 1,4%</div>
<div class="t" style="left:1638.02px;top:975.57px;font-size:32.4px;font-weight:400;color:#000;transform:scaleX(0.9720);-webkit-text-stroke:0.5px #000;">Ciudad de Panamá: 1,3%</div>
<div class="t" style="left:1637.05px;top:1027.87px;font-size:32.4px;font-weight:400;color:#000;transform:scaleX(0.9672);-webkit-text-stroke:0.5px #000;">La Habana: 1,2%</div>
<div class="t" style="left:1126.62px;top:823.61px;font-size:23.5px;font-weight:700;color:#fff;transform:scaleX(0.8750);-webkit-text-stroke:0.6px #fff;">?</div>
<div class="rot" style="left:1046.6px;top:1056px;font-size:23px;transform:rotate(-90deg) scaleX(0.937);" id="rot"><b>LECTORES:</b> POR CIUDAD</div>
</body></html>
